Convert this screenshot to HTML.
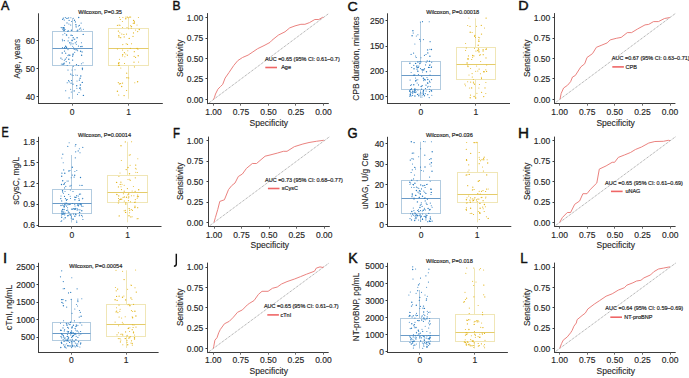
<!DOCTYPE html><html><head><meta charset="utf-8"><style>html,body{margin:0;padding:0;background:#fff;width:689px;height:378px;overflow:hidden}svg{display:block}</style></head><body><svg width="689" height="378" viewBox="0 0 689 378" font-family="'Liberation Sans', sans-serif">
<rect width="689" height="378" fill="#fff"/>
<text transform="translate(0.98,10.20) scale(1.013,1)" font-size="12.35" fill="#111" stroke="#111" stroke-width="0.45">A</text>
<text transform="translate(172.61,10.40) scale(0.951,1)" font-size="12.65" fill="#111" stroke="#111" stroke-width="0.45">B</text>
<text transform="translate(347.58,10.70) scale(1.063,1)" font-size="13.37" fill="#111" stroke="#111" stroke-width="0.45">C</text>
<text transform="translate(518.22,10.40) scale(1.105,1)" font-size="12.99" fill="#111" stroke="#111" stroke-width="0.45">D</text>
<text transform="translate(1.61,137.40) scale(0.756,1)" font-size="14.39" fill="#111" stroke="#111" stroke-width="0.45">E</text>
<text transform="translate(173.06,137.60) scale(0.780,1)" font-size="14.68" fill="#111" stroke="#111" stroke-width="0.45">F</text>
<text transform="translate(347.45,137.60) scale(0.887,1)" font-size="14.68" fill="#111" stroke="#111" stroke-width="0.45">G</text>
<text transform="translate(517.95,137.60) scale(1.037,1)" font-size="14.68" fill="#111" stroke="#111" stroke-width="0.45">H</text>
<text transform="translate(3.02,263.20) scale(1.064,1)" font-size="14.10" fill="#111" stroke="#111" stroke-width="0.45">I</text>
<text transform="translate(348.24,263.20) scale(1.001,1)" font-size="14.10" fill="#111" stroke="#111" stroke-width="0.45">K</text>
<text transform="translate(520.30,263.20) scale(0.949,1)" font-size="14.10" fill="#111" stroke="#111" stroke-width="0.45">L</text>
<path d="M176.3,253.7 V264.0 Q176.3,266.2 173.9,266.2" fill="none" stroke="#111" stroke-width="1.45"/>
<line x1="38.50" y1="13.30" x2="38.50" y2="104.00" stroke="#3d3d3d" stroke-width="1" />
<line x1="38.00" y1="103.50" x2="162.80" y2="103.50" stroke="#3d3d3d" stroke-width="1" />
<line x1="36.50" y1="96.50" x2="38.50" y2="96.50" stroke="#3d3d3d" stroke-width="1" />
<text x="35.10" y="99.50" font-size="8.5" text-anchor="end" fill="#262626" stroke="#262626" stroke-width="0.15" >40</text>
<line x1="36.50" y1="68.50" x2="38.50" y2="68.50" stroke="#3d3d3d" stroke-width="1" />
<text x="35.10" y="71.50" font-size="8.5" text-anchor="end" fill="#262626" stroke="#262626" stroke-width="0.15" >50</text>
<line x1="36.50" y1="40.50" x2="38.50" y2="40.50" stroke="#3d3d3d" stroke-width="1" />
<text x="35.10" y="43.50" font-size="8.5" text-anchor="end" fill="#262626" stroke="#262626" stroke-width="0.15" >60</text>
<line x1="72.50" y1="103.50" x2="72.50" y2="105.70" stroke="#6a6a6a" stroke-width="1" />
<text x="72.20" y="114.80" font-size="8.5" text-anchor="middle" fill="#262626" stroke="#262626" stroke-width="0.15" >0</text>
<line x1="128.50" y1="103.50" x2="128.50" y2="105.70" stroke="#6a6a6a" stroke-width="1" />
<text x="128.60" y="114.80" font-size="8.5" text-anchor="middle" fill="#262626" stroke="#262626" stroke-width="0.15" >1</text>
<text x="20.20" y="58.70" font-size="8.3" text-anchor="middle" fill="#262626" stroke="#262626" stroke-width="0.1" transform="rotate(-90 20.20 58.70)">Age, years</text>
<text x="78.30" y="14.30" font-size="5.6" text-anchor="start" fill="#262626" stroke="#262626" stroke-width="0.18" >Wilcoxon, P=0.35</text>
<line x1="72.50" y1="18.30" x2="72.50" y2="31.50" stroke="#b3cce0" stroke-width="1" />
<line x1="72.50" y1="65.50" x2="72.50" y2="99.00" stroke="#b3cce0" stroke-width="1" />
<rect x="52.50" y="31.50" width="40.00" height="34.00" fill="none" stroke="#b3cce0" stroke-width="1"/>
<line x1="52.50" y1="48.50" x2="92.50" y2="48.50" stroke="#6a9bc8" stroke-width="1" />
<circle cx="64.3" cy="60.3" r="0.5" fill="#2a7bbf"/>
<circle cx="73.0" cy="84.2" r="0.6" fill="#2a7bbf"/>
<circle cx="81.4" cy="42.7" r="0.55" fill="#2a7bbf"/>
<circle cx="70.7" cy="89.3" r="0.5" fill="#2a7bbf"/>
<circle cx="73.4" cy="66.2" r="0.5" fill="#2a7bbf"/>
<circle cx="63.7" cy="28.1" r="0.55" fill="#2a7bbf"/>
<circle cx="74.1" cy="39.5" r="0.5" fill="#2a7bbf"/>
<circle cx="69.9" cy="43.1" r="0.55" fill="#2a7bbf"/>
<circle cx="80.3" cy="87.8" r="0.6" fill="#2a7bbf"/>
<circle cx="73.1" cy="53.8" r="0.6" fill="#2a7bbf"/>
<circle cx="76.3" cy="44.3" r="0.5" fill="#2a7bbf"/>
<circle cx="75.3" cy="42.8" r="0.6" fill="#2a7bbf"/>
<circle cx="77.0" cy="81.1" r="0.5" fill="#2a7bbf"/>
<circle cx="72.1" cy="40.3" r="0.7" fill="#2a7bbf"/>
<circle cx="71.4" cy="30.3" r="0.7" fill="#2a7bbf"/>
<circle cx="66.5" cy="57.7" r="0.55" fill="#2a7bbf"/>
<circle cx="66.4" cy="34.9" r="0.6" fill="#2a7bbf"/>
<circle cx="80.7" cy="46.6" r="0.7" fill="#2a7bbf"/>
<circle cx="83.0" cy="62.7" r="0.5" fill="#2a7bbf"/>
<circle cx="64.6" cy="47.5" r="0.6" fill="#2a7bbf"/>
<circle cx="72.0" cy="75.0" r="0.5" fill="#2a7bbf"/>
<circle cx="62.7" cy="19.4" r="0.6" fill="#2a7bbf"/>
<circle cx="68.8" cy="59.2" r="0.7" fill="#2a7bbf"/>
<circle cx="71.2" cy="42.9" r="0.5" fill="#2a7bbf"/>
<circle cx="71.6" cy="21.6" r="0.5" fill="#2a7bbf"/>
<circle cx="76.7" cy="85.8" r="0.7" fill="#2a7bbf"/>
<circle cx="69.6" cy="62.9" r="0.6" fill="#2a7bbf"/>
<circle cx="71.3" cy="92.0" r="0.55" fill="#2a7bbf"/>
<circle cx="72.1" cy="40.8" r="0.55" fill="#2a7bbf"/>
<circle cx="63.8" cy="30.7" r="0.55" fill="#2a7bbf"/>
<circle cx="81.6" cy="55.2" r="0.7" fill="#2a7bbf"/>
<circle cx="71.1" cy="83.2" r="0.6" fill="#2a7bbf"/>
<circle cx="79.4" cy="25.3" r="0.6" fill="#2a7bbf"/>
<circle cx="83.2" cy="34.4" r="0.7" fill="#2a7bbf"/>
<circle cx="64.3" cy="20.0" r="0.55" fill="#2a7bbf"/>
<circle cx="75.8" cy="75.1" r="0.5" fill="#2a7bbf"/>
<circle cx="74.2" cy="49.3" r="0.6" fill="#2a7bbf"/>
<circle cx="64.2" cy="63.1" r="0.6" fill="#2a7bbf"/>
<circle cx="68.1" cy="40.9" r="0.55" fill="#2a7bbf"/>
<circle cx="72.5" cy="35.5" r="0.5" fill="#2a7bbf"/>
<circle cx="80.6" cy="51.2" r="0.7" fill="#2a7bbf"/>
<circle cx="69.8" cy="55.2" r="0.7" fill="#2a7bbf"/>
<circle cx="62.3" cy="39.3" r="0.5" fill="#2a7bbf"/>
<circle cx="70.9" cy="17.7" r="0.5" fill="#2a7bbf"/>
<circle cx="62.1" cy="59.2" r="0.5" fill="#2a7bbf"/>
<circle cx="73.0" cy="43.8" r="0.6" fill="#2a7bbf"/>
<circle cx="62.5" cy="40.7" r="0.55" fill="#2a7bbf"/>
<circle cx="64.3" cy="40.6" r="0.6" fill="#2a7bbf"/>
<circle cx="74.5" cy="20.3" r="0.7" fill="#2a7bbf"/>
<circle cx="80.1" cy="78.2" r="0.7" fill="#2a7bbf"/>
<circle cx="68.0" cy="49.6" r="0.55" fill="#2a7bbf"/>
<circle cx="68.6" cy="80.6" r="0.6" fill="#2a7bbf"/>
<circle cx="76.5" cy="49.8" r="0.5" fill="#2a7bbf"/>
<circle cx="82.4" cy="69.6" r="0.6" fill="#2a7bbf"/>
<circle cx="73.2" cy="75.6" r="0.5" fill="#2a7bbf"/>
<circle cx="67.6" cy="31.2" r="0.5" fill="#2a7bbf"/>
<circle cx="66.8" cy="35.1" r="0.6" fill="#2a7bbf"/>
<circle cx="68.9" cy="24.0" r="0.55" fill="#2a7bbf"/>
<circle cx="78.5" cy="46.1" r="0.6" fill="#2a7bbf"/>
<circle cx="74.8" cy="39.1" r="0.55" fill="#2a7bbf"/>
<circle cx="79.4" cy="29.1" r="0.55" fill="#2a7bbf"/>
<circle cx="72.0" cy="70.1" r="0.5" fill="#2a7bbf"/>
<circle cx="78.7" cy="17.5" r="0.7" fill="#2a7bbf"/>
<circle cx="76.5" cy="64.7" r="0.6" fill="#2a7bbf"/>
<circle cx="82.1" cy="51.9" r="0.6" fill="#2a7bbf"/>
<circle cx="69.1" cy="20.4" r="0.55" fill="#2a7bbf"/>
<circle cx="71.5" cy="80.6" r="0.6" fill="#2a7bbf"/>
<circle cx="75.0" cy="69.7" r="0.5" fill="#2a7bbf"/>
<circle cx="75.7" cy="49.7" r="0.5" fill="#2a7bbf"/>
<circle cx="63.6" cy="27.8" r="0.7" fill="#2a7bbf"/>
<circle cx="77.8" cy="30.1" r="0.7" fill="#2a7bbf"/>
<circle cx="70.7" cy="25.0" r="0.6" fill="#2a7bbf"/>
<circle cx="82.3" cy="82.4" r="0.7" fill="#2a7bbf"/>
<circle cx="77.7" cy="50.8" r="0.5" fill="#2a7bbf"/>
<circle cx="64.8" cy="33.2" r="0.55" fill="#2a7bbf"/>
<circle cx="74.2" cy="90.9" r="0.7" fill="#2a7bbf"/>
<circle cx="64.2" cy="29.0" r="0.7" fill="#2a7bbf"/>
<circle cx="68.8" cy="37.7" r="0.55" fill="#2a7bbf"/>
<circle cx="79.0" cy="92.4" r="0.5" fill="#2a7bbf"/>
<circle cx="82.0" cy="46.5" r="0.7" fill="#2a7bbf"/>
<circle cx="65.3" cy="17.6" r="0.55" fill="#2a7bbf"/>
<circle cx="65.7" cy="90.8" r="0.55" fill="#2a7bbf"/>
<circle cx="68.3" cy="30.9" r="0.7" fill="#2a7bbf"/>
<circle cx="62.3" cy="27.8" r="0.6" fill="#2a7bbf"/>
<circle cx="75.9" cy="24.6" r="0.7" fill="#2a7bbf"/>
<circle cx="80.7" cy="28.1" r="0.55" fill="#2a7bbf"/>
<circle cx="72.7" cy="46.2" r="0.5" fill="#2a7bbf"/>
<circle cx="78.4" cy="25.9" r="0.5" fill="#2a7bbf"/>
<circle cx="64.3" cy="30.4" r="0.55" fill="#2a7bbf"/>
<circle cx="77.3" cy="50.1" r="0.5" fill="#2a7bbf"/>
<circle cx="72.6" cy="60.1" r="0.7" fill="#2a7bbf"/>
<circle cx="63.3" cy="30.0" r="0.5" fill="#2a7bbf"/>
<circle cx="67.2" cy="65.4" r="0.5" fill="#2a7bbf"/>
<circle cx="73.6" cy="47.8" r="0.5" fill="#2a7bbf"/>
<circle cx="74.7" cy="52.2" r="0.55" fill="#2a7bbf"/>
<circle cx="71.1" cy="35.3" r="0.7" fill="#2a7bbf"/>
<circle cx="66.5" cy="47.8" r="0.6" fill="#2a7bbf"/>
<circle cx="81.1" cy="23.1" r="0.55" fill="#2a7bbf"/>
<circle cx="64.0" cy="27.5" r="0.5" fill="#2a7bbf"/>
<circle cx="68.0" cy="55.6" r="0.55" fill="#2a7bbf"/>
<circle cx="65.7" cy="53.2" r="0.6" fill="#2a7bbf"/>
<circle cx="81.2" cy="30.0" r="0.55" fill="#2a7bbf"/>
<circle cx="75.4" cy="21.9" r="0.6" fill="#2a7bbf"/>
<circle cx="80.8" cy="76.0" r="0.7" fill="#2a7bbf"/>
<circle cx="82.4" cy="68.2" r="0.7" fill="#2a7bbf"/>
<circle cx="64.6" cy="25.3" r="0.55" fill="#2a7bbf"/>
<circle cx="70.7" cy="74.1" r="0.7" fill="#2a7bbf"/>
<circle cx="65.3" cy="59.2" r="0.6" fill="#2a7bbf"/>
<circle cx="69.2" cy="81.8" r="0.6" fill="#2a7bbf"/>
<circle cx="70.9" cy="44.7" r="0.5" fill="#2a7bbf"/>
<circle cx="72.6" cy="56.2" r="0.6" fill="#2a7bbf"/>
<circle cx="62.4" cy="47.5" r="0.55" fill="#2a7bbf"/>
<circle cx="63.3" cy="18.2" r="0.6" fill="#2a7bbf"/>
<circle cx="81.4" cy="63.8" r="0.55" fill="#2a7bbf"/>
<circle cx="63.8" cy="63.9" r="0.7" fill="#2a7bbf"/>
<circle cx="76.2" cy="27.0" r="0.6" fill="#2a7bbf"/>
<circle cx="73.0" cy="54.7" r="0.7" fill="#2a7bbf"/>
<circle cx="62.9" cy="34.8" r="0.5" fill="#2a7bbf"/>
<circle cx="65.1" cy="29.4" r="0.5" fill="#2a7bbf"/>
<circle cx="61.3" cy="64.0" r="0.5" fill="#2a7bbf"/>
<circle cx="62.8" cy="29.3" r="0.55" fill="#2a7bbf"/>
<circle cx="80.4" cy="85.0" r="0.7" fill="#2a7bbf"/>
<circle cx="83.4" cy="95.4" r="0.7" fill="#2a7bbf"/>
<circle cx="67.0" cy="22.9" r="0.55" fill="#2a7bbf"/>
<circle cx="76.9" cy="88.3" r="0.5" fill="#2a7bbf"/>
<circle cx="66.8" cy="18.4" r="0.55" fill="#2a7bbf"/>
<circle cx="68.0" cy="70.0" r="0.6" fill="#2a7bbf"/>
<circle cx="65.6" cy="46.2" r="0.7" fill="#2a7bbf"/>
<circle cx="64.9" cy="48.3" r="0.6" fill="#2a7bbf"/>
<circle cx="83.4" cy="29.2" r="0.5" fill="#2a7bbf"/>
<circle cx="77.5" cy="94.2" r="0.55" fill="#2a7bbf"/>
<circle cx="66.5" cy="47.3" r="0.7" fill="#2a7bbf"/>
<circle cx="79.4" cy="80.1" r="0.7" fill="#2a7bbf"/>
<circle cx="73.2" cy="37.8" r="0.7" fill="#2a7bbf"/>
<circle cx="67.9" cy="18.3" r="0.55" fill="#2a7bbf"/>
<circle cx="68.7" cy="17.8" r="0.55" fill="#2a7bbf"/>
<circle cx="68.8" cy="54.8" r="0.5" fill="#2a7bbf"/>
<circle cx="61.2" cy="27.6" r="0.6" fill="#2a7bbf"/>
<circle cx="62.2" cy="53.0" r="0.7" fill="#2a7bbf"/>
<circle cx="76.0" cy="26.0" r="0.6" fill="#2a7bbf"/>
<circle cx="76.5" cy="41.7" r="0.5" fill="#2a7bbf"/>
<circle cx="64.5" cy="51.1" r="0.7" fill="#2a7bbf"/>
<circle cx="69.1" cy="97.9" r="0.6" fill="#2a7bbf"/>
<circle cx="73.3" cy="18.2" r="0.55" fill="#2a7bbf"/>
<circle cx="80.8" cy="89.7" r="0.55" fill="#2a7bbf"/>
<circle cx="60.9" cy="58.1" r="0.7" fill="#2a7bbf"/>
<circle cx="67.2" cy="82.8" r="0.55" fill="#2a7bbf"/>
<circle cx="78.4" cy="65.5" r="0.5" fill="#2a7bbf"/>
<circle cx="62.9" cy="64.3" r="0.7" fill="#2a7bbf"/>
<circle cx="69.8" cy="42.5" r="0.6" fill="#2a7bbf"/>
<circle cx="66.2" cy="61.6" r="0.55" fill="#2a7bbf"/>
<circle cx="77.1" cy="37.7" r="0.7" fill="#2a7bbf"/>
<circle cx="77.2" cy="30.9" r="0.7" fill="#2a7bbf"/>
<circle cx="77.3" cy="75.3" r="0.55" fill="#2a7bbf"/>
<circle cx="79.8" cy="88.3" r="0.7" fill="#2a7bbf"/>
<line x1="128.50" y1="17.50" x2="128.50" y2="28.50" stroke="#f0e6b6" stroke-width="1" />
<line x1="128.50" y1="65.50" x2="128.50" y2="98.80" stroke="#f0e6b6" stroke-width="1" />
<rect x="108.50" y="28.50" width="40.00" height="37.00" fill="none" stroke="#f0e6b6" stroke-width="1"/>
<line x1="108.50" y1="48.50" x2="148.50" y2="48.50" stroke="#e5cc6a" stroke-width="1" />
<circle cx="135.6" cy="30.0" r="0.55" fill="#e3b51c"/>
<circle cx="134.3" cy="22.2" r="0.5" fill="#e3b51c"/>
<circle cx="130.5" cy="25.8" r="0.55" fill="#e3b51c"/>
<circle cx="118.3" cy="82.6" r="0.6" fill="#e3b51c"/>
<circle cx="125.8" cy="18.7" r="0.7" fill="#e3b51c"/>
<circle cx="131.5" cy="43.7" r="0.55" fill="#e3b51c"/>
<circle cx="117.4" cy="49.0" r="0.5" fill="#e3b51c"/>
<circle cx="128.7" cy="28.8" r="0.5" fill="#e3b51c"/>
<circle cx="118.8" cy="35.8" r="0.7" fill="#e3b51c"/>
<circle cx="119.0" cy="65.3" r="0.6" fill="#e3b51c"/>
<circle cx="134.4" cy="66.9" r="0.55" fill="#e3b51c"/>
<circle cx="139.3" cy="29.5" r="0.7" fill="#e3b51c"/>
<circle cx="119.1" cy="25.1" r="0.6" fill="#e3b51c"/>
<circle cx="131.2" cy="28.1" r="0.55" fill="#e3b51c"/>
<circle cx="120.6" cy="83.6" r="0.6" fill="#e3b51c"/>
<circle cx="133.0" cy="36.4" r="0.55" fill="#e3b51c"/>
<circle cx="118.7" cy="95.0" r="0.6" fill="#e3b51c"/>
<circle cx="119.6" cy="17.5" r="0.55" fill="#e3b51c"/>
<circle cx="123.9" cy="34.5" r="0.6" fill="#e3b51c"/>
<circle cx="127.8" cy="50.7" r="0.5" fill="#e3b51c"/>
<circle cx="129.7" cy="17.1" r="0.6" fill="#e3b51c"/>
<circle cx="138.4" cy="17.4" r="0.5" fill="#e3b51c"/>
<circle cx="119.0" cy="62.8" r="0.7" fill="#e3b51c"/>
<circle cx="126.0" cy="17.1" r="0.55" fill="#e3b51c"/>
<circle cx="119.4" cy="83.9" r="0.6" fill="#e3b51c"/>
<circle cx="120.3" cy="19.5" r="0.6" fill="#e3b51c"/>
<circle cx="133.2" cy="23.3" r="0.55" fill="#e3b51c"/>
<circle cx="137.1" cy="48.4" r="0.7" fill="#e3b51c"/>
<circle cx="117.4" cy="91.2" r="0.7" fill="#e3b51c"/>
<circle cx="126.5" cy="34.1" r="0.55" fill="#e3b51c"/>
<circle cx="125.8" cy="54.1" r="0.5" fill="#e3b51c"/>
<circle cx="117.4" cy="25.3" r="0.6" fill="#e3b51c"/>
<circle cx="120.0" cy="25.3" r="0.55" fill="#e3b51c"/>
<circle cx="137.7" cy="31.6" r="0.6" fill="#e3b51c"/>
<circle cx="118.8" cy="65.3" r="0.7" fill="#e3b51c"/>
<circle cx="130.6" cy="17.0" r="0.6" fill="#e3b51c"/>
<circle cx="134.4" cy="21.4" r="0.5" fill="#e3b51c"/>
<circle cx="118.5" cy="63.4" r="0.6" fill="#e3b51c"/>
<circle cx="120.7" cy="37.7" r="0.6" fill="#e3b51c"/>
<circle cx="124.4" cy="52.7" r="0.6" fill="#e3b51c"/>
<circle cx="127.0" cy="27.4" r="0.5" fill="#e3b51c"/>
<circle cx="131.6" cy="26.4" r="0.55" fill="#e3b51c"/>
<circle cx="118.4" cy="31.1" r="0.7" fill="#e3b51c"/>
<circle cx="134.3" cy="51.7" r="0.6" fill="#e3b51c"/>
<circle cx="137.9" cy="49.3" r="0.55" fill="#e3b51c"/>
<circle cx="126.7" cy="73.2" r="0.6" fill="#e3b51c"/>
<circle cx="134.0" cy="62.2" r="0.6" fill="#e3b51c"/>
<circle cx="122.7" cy="54.8" r="0.7" fill="#e3b51c"/>
<circle cx="126.2" cy="43.8" r="0.55" fill="#e3b51c"/>
<circle cx="119.0" cy="37.1" r="0.7" fill="#e3b51c"/>
<circle cx="127.5" cy="44.3" r="0.6" fill="#e3b51c"/>
<circle cx="127.5" cy="17.1" r="0.55" fill="#e3b51c"/>
<circle cx="122.8" cy="44.6" r="0.55" fill="#e3b51c"/>
<circle cx="119.4" cy="59.2" r="0.55" fill="#e3b51c"/>
<circle cx="135.6" cy="57.4" r="0.55" fill="#e3b51c"/>
<circle cx="134.2" cy="23.3" r="0.7" fill="#e3b51c"/>
<circle cx="134.1" cy="56.4" r="0.55" fill="#e3b51c"/>
<circle cx="124.9" cy="56.8" r="0.5" fill="#e3b51c"/>
<circle cx="130.3" cy="48.4" r="0.6" fill="#e3b51c"/>
<circle cx="128.7" cy="77.9" r="0.55" fill="#e3b51c"/>
<circle cx="137.6" cy="81.7" r="0.7" fill="#e3b51c"/>
<circle cx="127.4" cy="55.2" r="0.6" fill="#e3b51c"/>
<circle cx="137.0" cy="25.0" r="0.5" fill="#e3b51c"/>
<circle cx="126.9" cy="77.8" r="0.7" fill="#e3b51c"/>
<circle cx="128.4" cy="17.7" r="0.5" fill="#e3b51c"/>
<circle cx="138.2" cy="55.8" r="0.7" fill="#e3b51c"/>
<circle cx="122.9" cy="17.5" r="0.5" fill="#e3b51c"/>
<circle cx="120.8" cy="68.0" r="0.5" fill="#e3b51c"/>
<circle cx="133.6" cy="20.5" r="0.7" fill="#e3b51c"/>
<circle cx="134.8" cy="82.7" r="0.5" fill="#e3b51c"/>
<circle cx="122.6" cy="27.5" r="0.5" fill="#e3b51c"/>
<circle cx="124.2" cy="36.9" r="0.55" fill="#e3b51c"/>
<circle cx="129.2" cy="38.4" r="0.7" fill="#e3b51c"/>
<circle cx="119.8" cy="32.7" r="0.5" fill="#e3b51c"/>
<circle cx="138.6" cy="62.0" r="0.55" fill="#e3b51c"/>
<circle cx="122.4" cy="56.0" r="0.5" fill="#e3b51c"/>
<circle cx="124.1" cy="95.6" r="0.7" fill="#e3b51c"/>
<circle cx="124.5" cy="63.5" r="0.55" fill="#e3b51c"/>
<circle cx="122.6" cy="50.0" r="0.55" fill="#e3b51c"/>
<circle cx="126.6" cy="90.5" r="0.6" fill="#e3b51c"/>
<circle cx="121.7" cy="86.5" r="0.7" fill="#e3b51c"/>
<circle cx="122.5" cy="83.1" r="0.7" fill="#e3b51c"/>
<circle cx="122.4" cy="21.4" r="0.5" fill="#e3b51c"/>
<circle cx="133.5" cy="32.9" r="0.6" fill="#e3b51c"/>
<circle cx="121.8" cy="34.0" r="0.6" fill="#e3b51c"/>
<line x1="387.50" y1="13.30" x2="387.50" y2="104.00" stroke="#3d3d3d" stroke-width="1" />
<line x1="387.00" y1="103.50" x2="510.00" y2="103.50" stroke="#3d3d3d" stroke-width="1" />
<line x1="385.50" y1="20.50" x2="387.50" y2="20.50" stroke="#3d3d3d" stroke-width="1" />
<text x="384.10" y="24.20" font-size="8.5" text-anchor="end" fill="#262626" stroke="#262626" stroke-width="0.15" >250</text>
<line x1="385.50" y1="46.50" x2="387.50" y2="46.50" stroke="#3d3d3d" stroke-width="1" />
<text x="384.10" y="49.20" font-size="8.5" text-anchor="end" fill="#262626" stroke="#262626" stroke-width="0.15" >150</text>
<line x1="385.50" y1="71.50" x2="387.50" y2="71.50" stroke="#3d3d3d" stroke-width="1" />
<text x="384.10" y="74.30" font-size="8.5" text-anchor="end" fill="#262626" stroke="#262626" stroke-width="0.15" >200</text>
<line x1="385.50" y1="96.50" x2="387.50" y2="96.50" stroke="#3d3d3d" stroke-width="1" />
<text x="384.10" y="99.50" font-size="8.5" text-anchor="end" fill="#262626" stroke="#262626" stroke-width="0.15" >100</text>
<line x1="420.50" y1="103.50" x2="420.50" y2="105.70" stroke="#6a6a6a" stroke-width="1" />
<text x="420.75" y="114.80" font-size="8.5" text-anchor="middle" fill="#262626" stroke="#262626" stroke-width="0.15" >0</text>
<line x1="475.50" y1="103.50" x2="475.50" y2="105.70" stroke="#6a6a6a" stroke-width="1" />
<text x="475.90" y="114.80" font-size="8.5" text-anchor="middle" fill="#262626" stroke="#262626" stroke-width="0.15" >1</text>
<text x="359.40" y="58.60" font-size="8.43" text-anchor="middle" fill="#262626" stroke="#262626" stroke-width="0.1" transform="rotate(-90 359.40 58.60)">CPB duration, minutes</text>
<text x="426.20" y="14.20" font-size="5.6" text-anchor="start" fill="#262626" stroke="#262626" stroke-width="0.18" >Wilcoxon, P=0.00018</text>
<line x1="420.50" y1="22.00" x2="420.50" y2="61.50" stroke="#b3cce0" stroke-width="1" />
<line x1="420.50" y1="89.50" x2="420.50" y2="98.00" stroke="#b3cce0" stroke-width="1" />
<rect x="401.50" y="61.50" width="39.00" height="28.00" fill="none" stroke="#b3cce0" stroke-width="1"/>
<line x1="401.50" y1="75.50" x2="440.50" y2="75.50" stroke="#6a9bc8" stroke-width="1" />
<circle cx="420.9" cy="61.9" r="0.55" fill="#2a7bbf"/>
<circle cx="414.1" cy="75.4" r="0.55" fill="#2a7bbf"/>
<circle cx="414.6" cy="89.7" r="0.6" fill="#2a7bbf"/>
<circle cx="423.5" cy="93.0" r="0.55" fill="#2a7bbf"/>
<circle cx="420.4" cy="40.9" r="0.5" fill="#2a7bbf"/>
<circle cx="412.9" cy="30.7" r="0.7" fill="#2a7bbf"/>
<circle cx="410.2" cy="94.8" r="0.55" fill="#2a7bbf"/>
<circle cx="425.4" cy="79.9" r="0.55" fill="#2a7bbf"/>
<circle cx="429.5" cy="81.2" r="0.6" fill="#2a7bbf"/>
<circle cx="431.7" cy="62.3" r="0.55" fill="#2a7bbf"/>
<circle cx="413.8" cy="84.8" r="0.7" fill="#2a7bbf"/>
<circle cx="424.4" cy="95.7" r="0.7" fill="#2a7bbf"/>
<circle cx="431.4" cy="49.5" r="0.7" fill="#2a7bbf"/>
<circle cx="409.8" cy="91.3" r="0.6" fill="#2a7bbf"/>
<circle cx="419.0" cy="93.9" r="0.5" fill="#2a7bbf"/>
<circle cx="426.5" cy="71.8" r="0.7" fill="#2a7bbf"/>
<circle cx="427.8" cy="83.2" r="0.7" fill="#2a7bbf"/>
<circle cx="425.3" cy="93.6" r="0.55" fill="#2a7bbf"/>
<circle cx="430.0" cy="82.3" r="0.55" fill="#2a7bbf"/>
<circle cx="426.0" cy="85.1" r="0.7" fill="#2a7bbf"/>
<circle cx="418.8" cy="95.8" r="0.7" fill="#2a7bbf"/>
<circle cx="410.5" cy="95.3" r="0.5" fill="#2a7bbf"/>
<circle cx="411.1" cy="54.4" r="0.55" fill="#2a7bbf"/>
<circle cx="429.5" cy="61.5" r="0.6" fill="#2a7bbf"/>
<circle cx="417.1" cy="82.9" r="0.5" fill="#2a7bbf"/>
<circle cx="425.5" cy="88.5" r="0.6" fill="#2a7bbf"/>
<circle cx="416.3" cy="36.0" r="0.5" fill="#2a7bbf"/>
<circle cx="414.9" cy="96.0" r="0.7" fill="#2a7bbf"/>
<circle cx="420.0" cy="63.2" r="0.7" fill="#2a7bbf"/>
<circle cx="429.9" cy="56.2" r="0.7" fill="#2a7bbf"/>
<circle cx="420.7" cy="92.3" r="0.5" fill="#2a7bbf"/>
<circle cx="426.0" cy="54.5" r="0.55" fill="#2a7bbf"/>
<circle cx="417.0" cy="69.2" r="0.6" fill="#2a7bbf"/>
<circle cx="427.0" cy="77.4" r="0.5" fill="#2a7bbf"/>
<circle cx="418.4" cy="74.5" r="0.55" fill="#2a7bbf"/>
<circle cx="411.1" cy="89.3" r="0.5" fill="#2a7bbf"/>
<circle cx="421.7" cy="76.2" r="0.55" fill="#2a7bbf"/>
<circle cx="429.2" cy="21.8" r="0.5" fill="#2a7bbf"/>
<circle cx="411.6" cy="88.4" r="0.5" fill="#2a7bbf"/>
<circle cx="431.5" cy="79.6" r="0.7" fill="#2a7bbf"/>
<circle cx="412.7" cy="91.2" r="0.7" fill="#2a7bbf"/>
<circle cx="424.6" cy="68.5" r="0.5" fill="#2a7bbf"/>
<circle cx="416.2" cy="57.5" r="0.6" fill="#2a7bbf"/>
<circle cx="417.9" cy="71.5" r="0.6" fill="#2a7bbf"/>
<circle cx="415.2" cy="90.5" r="0.55" fill="#2a7bbf"/>
<circle cx="415.9" cy="89.6" r="0.55" fill="#2a7bbf"/>
<circle cx="418.5" cy="84.9" r="0.55" fill="#2a7bbf"/>
<circle cx="414.8" cy="74.8" r="0.5" fill="#2a7bbf"/>
<circle cx="431.6" cy="66.7" r="0.5" fill="#2a7bbf"/>
<circle cx="429.2" cy="97.6" r="0.55" fill="#2a7bbf"/>
<circle cx="429.9" cy="49.3" r="0.5" fill="#2a7bbf"/>
<circle cx="414.9" cy="44.0" r="0.5" fill="#2a7bbf"/>
<circle cx="431.2" cy="90.7" r="0.55" fill="#2a7bbf"/>
<circle cx="417.9" cy="34.8" r="0.55" fill="#2a7bbf"/>
<circle cx="415.5" cy="78.0" r="0.5" fill="#2a7bbf"/>
<circle cx="422.9" cy="93.1" r="0.6" fill="#2a7bbf"/>
<circle cx="417.9" cy="90.0" r="0.55" fill="#2a7bbf"/>
<circle cx="431.8" cy="95.2" r="0.5" fill="#2a7bbf"/>
<circle cx="424.1" cy="69.7" r="0.55" fill="#2a7bbf"/>
<circle cx="427.8" cy="52.9" r="0.7" fill="#2a7bbf"/>
<circle cx="413.8" cy="65.3" r="0.6" fill="#2a7bbf"/>
<circle cx="410.4" cy="94.0" r="0.7" fill="#2a7bbf"/>
<circle cx="411.1" cy="72.5" r="0.5" fill="#2a7bbf"/>
<circle cx="424.4" cy="55.4" r="0.55" fill="#2a7bbf"/>
<circle cx="411.7" cy="67.5" r="0.55" fill="#2a7bbf"/>
<circle cx="415.7" cy="80.9" r="0.6" fill="#2a7bbf"/>
<circle cx="418.9" cy="65.9" r="0.5" fill="#2a7bbf"/>
<circle cx="422.2" cy="85.7" r="0.6" fill="#2a7bbf"/>
<circle cx="410.1" cy="80.0" r="0.6" fill="#2a7bbf"/>
<circle cx="418.3" cy="67.2" r="0.7" fill="#2a7bbf"/>
<circle cx="409.8" cy="90.4" r="0.55" fill="#2a7bbf"/>
<circle cx="427.8" cy="79.5" r="0.7" fill="#2a7bbf"/>
<circle cx="417.8" cy="70.9" r="0.55" fill="#2a7bbf"/>
<circle cx="410.9" cy="92.4" r="0.55" fill="#2a7bbf"/>
<circle cx="429.8" cy="67.4" r="0.5" fill="#2a7bbf"/>
<circle cx="430.2" cy="71.1" r="0.55" fill="#2a7bbf"/>
<circle cx="416.0" cy="91.9" r="0.55" fill="#2a7bbf"/>
<circle cx="412.1" cy="35.8" r="0.7" fill="#2a7bbf"/>
<circle cx="427.2" cy="60.9" r="0.55" fill="#2a7bbf"/>
<circle cx="428.2" cy="86.3" r="0.5" fill="#2a7bbf"/>
<circle cx="420.4" cy="21.9" r="0.5" fill="#2a7bbf"/>
<circle cx="423.8" cy="69.2" r="0.5" fill="#2a7bbf"/>
<circle cx="423.4" cy="39.6" r="0.55" fill="#2a7bbf"/>
<circle cx="428.6" cy="67.4" r="0.7" fill="#2a7bbf"/>
<circle cx="414.0" cy="68.8" r="0.7" fill="#2a7bbf"/>
<circle cx="414.5" cy="90.9" r="0.7" fill="#2a7bbf"/>
<circle cx="413.2" cy="33.0" r="0.6" fill="#2a7bbf"/>
<circle cx="415.2" cy="92.6" r="0.55" fill="#2a7bbf"/>
<circle cx="422.1" cy="95.3" r="0.5" fill="#2a7bbf"/>
<circle cx="416.9" cy="65.9" r="0.7" fill="#2a7bbf"/>
<circle cx="421.9" cy="69.7" r="0.6" fill="#2a7bbf"/>
<circle cx="416.5" cy="66.9" r="0.55" fill="#2a7bbf"/>
<circle cx="424.3" cy="79.4" r="0.7" fill="#2a7bbf"/>
<circle cx="413.7" cy="75.0" r="0.5" fill="#2a7bbf"/>
<circle cx="420.5" cy="68.6" r="0.55" fill="#2a7bbf"/>
<circle cx="423.4" cy="78.2" r="0.7" fill="#2a7bbf"/>
<circle cx="427.6" cy="49.9" r="0.7" fill="#2a7bbf"/>
<circle cx="412.6" cy="93.0" r="0.7" fill="#2a7bbf"/>
<circle cx="427.4" cy="82.7" r="0.5" fill="#2a7bbf"/>
<circle cx="412.6" cy="95.3" r="0.6" fill="#2a7bbf"/>
<circle cx="421.0" cy="57.8" r="0.5" fill="#2a7bbf"/>
<circle cx="429.5" cy="61.0" r="0.55" fill="#2a7bbf"/>
<circle cx="411.2" cy="95.9" r="0.5" fill="#2a7bbf"/>
<circle cx="431.4" cy="90.6" r="0.7" fill="#2a7bbf"/>
<circle cx="427.6" cy="87.1" r="0.55" fill="#2a7bbf"/>
<circle cx="425.6" cy="64.9" r="0.55" fill="#2a7bbf"/>
<circle cx="417.5" cy="94.4" r="0.6" fill="#2a7bbf"/>
<circle cx="429.5" cy="91.6" r="0.6" fill="#2a7bbf"/>
<circle cx="419.8" cy="39.4" r="0.6" fill="#2a7bbf"/>
<circle cx="430.0" cy="75.1" r="0.55" fill="#2a7bbf"/>
<circle cx="423.3" cy="70.1" r="0.55" fill="#2a7bbf"/>
<circle cx="410.5" cy="85.3" r="0.55" fill="#2a7bbf"/>
<circle cx="423.8" cy="80.6" r="0.6" fill="#2a7bbf"/>
<circle cx="429.5" cy="65.2" r="0.55" fill="#2a7bbf"/>
<circle cx="415.6" cy="55.9" r="0.5" fill="#2a7bbf"/>
<circle cx="417.7" cy="67.6" r="0.7" fill="#2a7bbf"/>
<circle cx="422.5" cy="72.1" r="0.5" fill="#2a7bbf"/>
<circle cx="421.5" cy="89.1" r="0.7" fill="#2a7bbf"/>
<circle cx="417.9" cy="62.0" r="0.7" fill="#2a7bbf"/>
<circle cx="422.5" cy="21.7" r="0.6" fill="#2a7bbf"/>
<circle cx="411.5" cy="84.7" r="0.55" fill="#2a7bbf"/>
<circle cx="426.1" cy="91.1" r="0.5" fill="#2a7bbf"/>
<circle cx="421.1" cy="86.6" r="0.6" fill="#2a7bbf"/>
<circle cx="431.4" cy="67.5" r="0.6" fill="#2a7bbf"/>
<circle cx="426.2" cy="62.2" r="0.55" fill="#2a7bbf"/>
<circle cx="423.3" cy="91.8" r="0.7" fill="#2a7bbf"/>
<circle cx="417.8" cy="79.8" r="0.5" fill="#2a7bbf"/>
<circle cx="414.7" cy="92.3" r="0.5" fill="#2a7bbf"/>
<circle cx="409.8" cy="96.2" r="0.6" fill="#2a7bbf"/>
<circle cx="421.3" cy="86.2" r="0.55" fill="#2a7bbf"/>
<circle cx="416.4" cy="80.1" r="0.55" fill="#2a7bbf"/>
<circle cx="423.5" cy="90.4" r="0.7" fill="#2a7bbf"/>
<circle cx="410.0" cy="91.6" r="0.55" fill="#2a7bbf"/>
<circle cx="419.7" cy="63.7" r="0.5" fill="#2a7bbf"/>
<circle cx="428.9" cy="67.5" r="0.6" fill="#2a7bbf"/>
<circle cx="415.5" cy="80.7" r="0.5" fill="#2a7bbf"/>
<circle cx="427.8" cy="94.7" r="0.6" fill="#2a7bbf"/>
<circle cx="422.5" cy="69.9" r="0.7" fill="#2a7bbf"/>
<circle cx="429.7" cy="89.2" r="0.5" fill="#2a7bbf"/>
<circle cx="410.3" cy="94.5" r="0.55" fill="#2a7bbf"/>
<circle cx="411.0" cy="89.5" r="0.5" fill="#2a7bbf"/>
<circle cx="421.9" cy="97.0" r="0.55" fill="#2a7bbf"/>
<circle cx="414.1" cy="92.0" r="0.7" fill="#2a7bbf"/>
<circle cx="413.6" cy="53.1" r="0.6" fill="#2a7bbf"/>
<circle cx="423.5" cy="94.4" r="0.7" fill="#2a7bbf"/>
<circle cx="409.9" cy="63.2" r="0.7" fill="#2a7bbf"/>
<circle cx="420.0" cy="61.6" r="0.7" fill="#2a7bbf"/>
<circle cx="431.7" cy="91.1" r="0.6" fill="#2a7bbf"/>
<circle cx="410.6" cy="89.6" r="0.6" fill="#2a7bbf"/>
<circle cx="430.1" cy="41.7" r="0.6" fill="#2a7bbf"/>
<circle cx="415.6" cy="63.4" r="0.7" fill="#2a7bbf"/>
<circle cx="430.0" cy="64.9" r="0.6" fill="#2a7bbf"/>
<circle cx="430.2" cy="86.6" r="0.55" fill="#2a7bbf"/>
<circle cx="420.9" cy="93.7" r="0.55" fill="#2a7bbf"/>
<circle cx="414.9" cy="88.6" r="0.55" fill="#2a7bbf"/>
<line x1="475.50" y1="18.30" x2="475.50" y2="47.50" stroke="#f0e6b6" stroke-width="1" />
<line x1="475.50" y1="79.50" x2="475.50" y2="98.80" stroke="#f0e6b6" stroke-width="1" />
<rect x="456.50" y="47.50" width="39.00" height="32.00" fill="none" stroke="#f0e6b6" stroke-width="1"/>
<line x1="456.50" y1="64.50" x2="495.50" y2="64.50" stroke="#e5cc6a" stroke-width="1" />
<circle cx="481.3" cy="25.4" r="0.6" fill="#e3b51c"/>
<circle cx="473.4" cy="82.9" r="0.55" fill="#e3b51c"/>
<circle cx="483.7" cy="71.7" r="0.7" fill="#e3b51c"/>
<circle cx="476.6" cy="66.0" r="0.5" fill="#e3b51c"/>
<circle cx="474.5" cy="36.5" r="0.55" fill="#e3b51c"/>
<circle cx="471.7" cy="59.5" r="0.55" fill="#e3b51c"/>
<circle cx="477.8" cy="71.0" r="0.55" fill="#e3b51c"/>
<circle cx="465.5" cy="85.7" r="0.5" fill="#e3b51c"/>
<circle cx="468.4" cy="55.9" r="0.55" fill="#e3b51c"/>
<circle cx="465.6" cy="50.5" r="0.55" fill="#e3b51c"/>
<circle cx="478.9" cy="51.0" r="0.5" fill="#e3b51c"/>
<circle cx="466.3" cy="48.0" r="0.6" fill="#e3b51c"/>
<circle cx="485.9" cy="82.5" r="0.5" fill="#e3b51c"/>
<circle cx="481.5" cy="34.1" r="0.7" fill="#e3b51c"/>
<circle cx="469.4" cy="88.0" r="0.5" fill="#e3b51c"/>
<circle cx="485.8" cy="93.6" r="0.5" fill="#e3b51c"/>
<circle cx="478.8" cy="39.9" r="0.6" fill="#e3b51c"/>
<circle cx="467.8" cy="65.7" r="0.55" fill="#e3b51c"/>
<circle cx="472.3" cy="77.0" r="0.6" fill="#e3b51c"/>
<circle cx="470.5" cy="95.1" r="0.6" fill="#e3b51c"/>
<circle cx="481.6" cy="92.3" r="0.6" fill="#e3b51c"/>
<circle cx="478.2" cy="45.3" r="0.7" fill="#e3b51c"/>
<circle cx="478.5" cy="37.2" r="0.5" fill="#e3b51c"/>
<circle cx="465.6" cy="43.4" r="0.5" fill="#e3b51c"/>
<circle cx="480.4" cy="73.7" r="0.55" fill="#e3b51c"/>
<circle cx="483.1" cy="49.5" r="0.6" fill="#e3b51c"/>
<circle cx="464.9" cy="84.1" r="0.55" fill="#e3b51c"/>
<circle cx="481.4" cy="77.3" r="0.5" fill="#e3b51c"/>
<circle cx="475.7" cy="98.0" r="0.7" fill="#e3b51c"/>
<circle cx="483.1" cy="50.9" r="0.7" fill="#e3b51c"/>
<circle cx="486.0" cy="57.9" r="0.6" fill="#e3b51c"/>
<circle cx="468.4" cy="58.9" r="0.55" fill="#e3b51c"/>
<circle cx="470.0" cy="26.4" r="0.55" fill="#e3b51c"/>
<circle cx="478.9" cy="87.9" r="0.5" fill="#e3b51c"/>
<circle cx="486.7" cy="64.9" r="0.5" fill="#e3b51c"/>
<circle cx="472.7" cy="55.5" r="0.7" fill="#e3b51c"/>
<circle cx="484.5" cy="27.9" r="0.5" fill="#e3b51c"/>
<circle cx="479.1" cy="69.1" r="0.6" fill="#e3b51c"/>
<circle cx="470.7" cy="82.1" r="0.55" fill="#e3b51c"/>
<circle cx="484.4" cy="71.7" r="0.55" fill="#e3b51c"/>
<circle cx="467.7" cy="25.5" r="0.5" fill="#e3b51c"/>
<circle cx="472.1" cy="73.6" r="0.55" fill="#e3b51c"/>
<circle cx="474.8" cy="35.4" r="0.6" fill="#e3b51c"/>
<circle cx="474.5" cy="84.2" r="0.6" fill="#e3b51c"/>
<circle cx="467.7" cy="58.9" r="0.7" fill="#e3b51c"/>
<circle cx="480.2" cy="54.5" r="0.55" fill="#e3b51c"/>
<circle cx="481.5" cy="78.6" r="0.55" fill="#e3b51c"/>
<circle cx="486.4" cy="48.9" r="0.6" fill="#e3b51c"/>
<circle cx="472.6" cy="57.2" r="0.55" fill="#e3b51c"/>
<circle cx="469.0" cy="74.9" r="0.5" fill="#e3b51c"/>
<circle cx="479.4" cy="84.5" r="0.55" fill="#e3b51c"/>
<circle cx="486.6" cy="71.4" r="0.6" fill="#e3b51c"/>
<circle cx="474.5" cy="48.2" r="0.55" fill="#e3b51c"/>
<circle cx="485.0" cy="87.9" r="0.6" fill="#e3b51c"/>
<circle cx="473.4" cy="82.1" r="0.5" fill="#e3b51c"/>
<circle cx="483.7" cy="96.6" r="0.7" fill="#e3b51c"/>
<circle cx="475.9" cy="51.0" r="0.6" fill="#e3b51c"/>
<circle cx="468.0" cy="66.6" r="0.7" fill="#e3b51c"/>
<circle cx="470.2" cy="97.8" r="0.7" fill="#e3b51c"/>
<circle cx="477.8" cy="50.5" r="0.7" fill="#e3b51c"/>
<circle cx="479.6" cy="37.8" r="0.55" fill="#e3b51c"/>
<circle cx="479.0" cy="51.9" r="0.7" fill="#e3b51c"/>
<circle cx="470.6" cy="68.5" r="0.5" fill="#e3b51c"/>
<circle cx="470.2" cy="32.3" r="0.7" fill="#e3b51c"/>
<circle cx="478.8" cy="49.6" r="0.6" fill="#e3b51c"/>
<circle cx="475.5" cy="37.4" r="0.5" fill="#e3b51c"/>
<circle cx="473.9" cy="55.9" r="0.55" fill="#e3b51c"/>
<circle cx="472.1" cy="32.4" r="0.5" fill="#e3b51c"/>
<circle cx="475.7" cy="71.2" r="0.5" fill="#e3b51c"/>
<circle cx="476.9" cy="93.2" r="0.55" fill="#e3b51c"/>
<circle cx="485.9" cy="49.4" r="0.55" fill="#e3b51c"/>
<circle cx="467.1" cy="63.0" r="0.7" fill="#e3b51c"/>
<circle cx="480.7" cy="61.5" r="0.5" fill="#e3b51c"/>
<circle cx="483.2" cy="54.7" r="0.6" fill="#e3b51c"/>
<circle cx="485.8" cy="69.8" r="0.55" fill="#e3b51c"/>
<circle cx="468.9" cy="18.1" r="0.5" fill="#e3b51c"/>
<circle cx="478.4" cy="48.5" r="0.5" fill="#e3b51c"/>
<circle cx="473.3" cy="79.5" r="0.5" fill="#e3b51c"/>
<circle cx="474.1" cy="96.5" r="0.7" fill="#e3b51c"/>
<circle cx="479.8" cy="55.5" r="0.6" fill="#e3b51c"/>
<circle cx="471.6" cy="87.9" r="0.7" fill="#e3b51c"/>
<circle cx="476.5" cy="26.2" r="0.55" fill="#e3b51c"/>
<circle cx="486.1" cy="18.1" r="0.7" fill="#e3b51c"/>
<circle cx="467.7" cy="81.8" r="0.5" fill="#e3b51c"/>
<circle cx="478.9" cy="41.4" r="0.7" fill="#e3b51c"/>
<line x1="38.50" y1="136.80" x2="38.50" y2="227.00" stroke="#3d3d3d" stroke-width="1" />
<line x1="38.00" y1="226.50" x2="161.50" y2="226.50" stroke="#3d3d3d" stroke-width="1" />
<line x1="36.50" y1="225.50" x2="38.50" y2="225.50" stroke="#3d3d3d" stroke-width="1" />
<text x="35.10" y="228.40" font-size="8.5" text-anchor="end" fill="#262626" stroke="#262626" stroke-width="0.15" >0.6</text>
<line x1="36.50" y1="204.50" x2="38.50" y2="204.50" stroke="#3d3d3d" stroke-width="1" />
<text x="35.10" y="207.30" font-size="8.5" text-anchor="end" fill="#262626" stroke="#262626" stroke-width="0.15" >0.9</text>
<line x1="36.50" y1="183.50" x2="38.50" y2="183.50" stroke="#3d3d3d" stroke-width="1" />
<text x="35.10" y="186.70" font-size="8.5" text-anchor="end" fill="#262626" stroke="#262626" stroke-width="0.15" >1.2</text>
<line x1="36.50" y1="162.50" x2="38.50" y2="162.50" stroke="#3d3d3d" stroke-width="1" />
<text x="35.10" y="165.50" font-size="8.5" text-anchor="end" fill="#262626" stroke="#262626" stroke-width="0.15" >1.5</text>
<line x1="36.50" y1="141.50" x2="38.50" y2="141.50" stroke="#3d3d3d" stroke-width="1" />
<text x="35.10" y="145.00" font-size="8.5" text-anchor="end" fill="#262626" stroke="#262626" stroke-width="0.15" >1.8</text>
<line x1="71.50" y1="226.50" x2="71.50" y2="228.70" stroke="#6a6a6a" stroke-width="1" />
<text x="71.80" y="237.80" font-size="8.5" text-anchor="middle" fill="#262626" stroke="#262626" stroke-width="0.15" >0</text>
<line x1="127.50" y1="226.50" x2="127.50" y2="228.70" stroke="#6a6a6a" stroke-width="1" />
<text x="127.60" y="237.80" font-size="8.5" text-anchor="middle" fill="#262626" stroke="#262626" stroke-width="0.15" >1</text>
<text x="18.60" y="180.90" font-size="8.4" text-anchor="middle" fill="#262626" stroke="#262626" stroke-width="0.1" transform="rotate(-90 18.60 180.90)">sCysC, mg/L</text>
<text x="78.00" y="137.30" font-size="5.6" text-anchor="start" fill="#262626" stroke="#262626" stroke-width="0.18" >Wilcoxon, P=0.00014</text>
<line x1="71.50" y1="155.00" x2="71.50" y2="189.50" stroke="#b3cce0" stroke-width="1" />
<line x1="71.50" y1="213.50" x2="71.50" y2="222.50" stroke="#b3cce0" stroke-width="1" />
<rect x="52.50" y="189.50" width="39.00" height="24.00" fill="none" stroke="#b3cce0" stroke-width="1"/>
<line x1="52.50" y1="203.50" x2="91.50" y2="203.50" stroke="#6a9bc8" stroke-width="1" />
<circle cx="76.7" cy="195.5" r="0.55" fill="#2a7bbf"/>
<circle cx="74.9" cy="209.2" r="0.7" fill="#2a7bbf"/>
<circle cx="67.2" cy="204.7" r="0.55" fill="#2a7bbf"/>
<circle cx="71.1" cy="185.2" r="0.55" fill="#2a7bbf"/>
<circle cx="69.0" cy="212.6" r="0.6" fill="#2a7bbf"/>
<circle cx="75.8" cy="144.6" r="0.7" fill="#2a7bbf"/>
<circle cx="76.8" cy="222.3" r="0.6" fill="#2a7bbf"/>
<circle cx="75.2" cy="209.0" r="0.6" fill="#2a7bbf"/>
<circle cx="70.2" cy="204.2" r="0.5" fill="#2a7bbf"/>
<circle cx="68.7" cy="194.5" r="0.6" fill="#2a7bbf"/>
<circle cx="61.9" cy="173.2" r="0.6" fill="#2a7bbf"/>
<circle cx="63.8" cy="184.5" r="0.6" fill="#2a7bbf"/>
<circle cx="61.0" cy="196.0" r="0.5" fill="#2a7bbf"/>
<circle cx="62.2" cy="214.4" r="0.6" fill="#2a7bbf"/>
<circle cx="62.9" cy="213.3" r="0.55" fill="#2a7bbf"/>
<circle cx="64.8" cy="173.2" r="0.7" fill="#2a7bbf"/>
<circle cx="64.0" cy="209.5" r="0.7" fill="#2a7bbf"/>
<circle cx="64.4" cy="183.4" r="0.5" fill="#2a7bbf"/>
<circle cx="80.6" cy="194.0" r="0.6" fill="#2a7bbf"/>
<circle cx="76.1" cy="214.7" r="0.5" fill="#2a7bbf"/>
<circle cx="70.4" cy="189.9" r="0.5" fill="#2a7bbf"/>
<circle cx="66.5" cy="200.3" r="0.55" fill="#2a7bbf"/>
<circle cx="71.2" cy="177.8" r="0.5" fill="#2a7bbf"/>
<circle cx="80.8" cy="204.0" r="0.7" fill="#2a7bbf"/>
<circle cx="64.3" cy="213.4" r="0.5" fill="#2a7bbf"/>
<circle cx="67.8" cy="215.7" r="0.7" fill="#2a7bbf"/>
<circle cx="79.4" cy="194.2" r="0.6" fill="#2a7bbf"/>
<circle cx="83.0" cy="206.3" r="0.5" fill="#2a7bbf"/>
<circle cx="68.7" cy="215.2" r="0.5" fill="#2a7bbf"/>
<circle cx="61.7" cy="220.8" r="0.6" fill="#2a7bbf"/>
<circle cx="62.7" cy="180.8" r="0.7" fill="#2a7bbf"/>
<circle cx="80.7" cy="204.0" r="0.5" fill="#2a7bbf"/>
<circle cx="69.9" cy="214.3" r="0.55" fill="#2a7bbf"/>
<circle cx="79.9" cy="209.8" r="0.6" fill="#2a7bbf"/>
<circle cx="78.0" cy="209.7" r="0.55" fill="#2a7bbf"/>
<circle cx="68.3" cy="211.9" r="0.6" fill="#2a7bbf"/>
<circle cx="79.1" cy="200.4" r="0.6" fill="#2a7bbf"/>
<circle cx="71.7" cy="209.1" r="0.6" fill="#2a7bbf"/>
<circle cx="66.7" cy="203.2" r="0.6" fill="#2a7bbf"/>
<circle cx="75.2" cy="145.9" r="0.5" fill="#2a7bbf"/>
<circle cx="67.7" cy="210.1" r="0.6" fill="#2a7bbf"/>
<circle cx="82.4" cy="216.7" r="0.5" fill="#2a7bbf"/>
<circle cx="61.5" cy="184.5" r="0.7" fill="#2a7bbf"/>
<circle cx="61.7" cy="200.9" r="0.6" fill="#2a7bbf"/>
<circle cx="61.7" cy="217.3" r="0.7" fill="#2a7bbf"/>
<circle cx="75.3" cy="197.4" r="0.7" fill="#2a7bbf"/>
<circle cx="74.6" cy="196.9" r="0.5" fill="#2a7bbf"/>
<circle cx="75.5" cy="214.3" r="0.7" fill="#2a7bbf"/>
<circle cx="64.5" cy="196.4" r="0.55" fill="#2a7bbf"/>
<circle cx="70.0" cy="170.4" r="0.5" fill="#2a7bbf"/>
<circle cx="75.3" cy="157.8" r="0.6" fill="#2a7bbf"/>
<circle cx="63.7" cy="169.9" r="0.6" fill="#2a7bbf"/>
<circle cx="66.4" cy="199.9" r="0.6" fill="#2a7bbf"/>
<circle cx="61.4" cy="215.0" r="0.5" fill="#2a7bbf"/>
<circle cx="75.0" cy="206.1" r="0.5" fill="#2a7bbf"/>
<circle cx="72.3" cy="203.5" r="0.5" fill="#2a7bbf"/>
<circle cx="70.0" cy="186.1" r="0.7" fill="#2a7bbf"/>
<circle cx="61.0" cy="205.5" r="0.7" fill="#2a7bbf"/>
<circle cx="82.8" cy="198.2" r="0.55" fill="#2a7bbf"/>
<circle cx="69.8" cy="204.4" r="0.5" fill="#2a7bbf"/>
<circle cx="71.2" cy="218.1" r="0.55" fill="#2a7bbf"/>
<circle cx="70.2" cy="196.3" r="0.5" fill="#2a7bbf"/>
<circle cx="63.4" cy="193.2" r="0.5" fill="#2a7bbf"/>
<circle cx="63.3" cy="214.1" r="0.7" fill="#2a7bbf"/>
<circle cx="76.7" cy="221.0" r="0.55" fill="#2a7bbf"/>
<circle cx="77.3" cy="205.3" r="0.5" fill="#2a7bbf"/>
<circle cx="77.3" cy="208.7" r="0.55" fill="#2a7bbf"/>
<circle cx="62.5" cy="190.6" r="0.7" fill="#2a7bbf"/>
<circle cx="81.4" cy="205.0" r="0.6" fill="#2a7bbf"/>
<circle cx="61.8" cy="158.0" r="0.5" fill="#2a7bbf"/>
<circle cx="61.0" cy="221.5" r="0.5" fill="#2a7bbf"/>
<circle cx="67.6" cy="207.8" r="0.55" fill="#2a7bbf"/>
<circle cx="79.3" cy="148.8" r="0.5" fill="#2a7bbf"/>
<circle cx="81.8" cy="210.7" r="0.7" fill="#2a7bbf"/>
<circle cx="64.4" cy="204.6" r="0.5" fill="#2a7bbf"/>
<circle cx="75.0" cy="208.8" r="0.7" fill="#2a7bbf"/>
<circle cx="78.0" cy="204.3" r="0.7" fill="#2a7bbf"/>
<circle cx="78.2" cy="150.9" r="0.6" fill="#2a7bbf"/>
<circle cx="62.0" cy="211.6" r="0.6" fill="#2a7bbf"/>
<circle cx="76.8" cy="170.4" r="0.5" fill="#2a7bbf"/>
<circle cx="74.1" cy="177.1" r="0.6" fill="#2a7bbf"/>
<circle cx="82.4" cy="198.7" r="0.55" fill="#2a7bbf"/>
<circle cx="75.9" cy="208.3" r="0.55" fill="#2a7bbf"/>
<circle cx="67.0" cy="181.0" r="0.5" fill="#2a7bbf"/>
<circle cx="66.6" cy="210.5" r="0.55" fill="#2a7bbf"/>
<circle cx="78.9" cy="198.6" r="0.5" fill="#2a7bbf"/>
<circle cx="63.8" cy="211.8" r="0.55" fill="#2a7bbf"/>
<circle cx="79.6" cy="212.4" r="0.7" fill="#2a7bbf"/>
<circle cx="62.5" cy="209.5" r="0.7" fill="#2a7bbf"/>
<circle cx="65.1" cy="182.5" r="0.55" fill="#2a7bbf"/>
<circle cx="61.9" cy="210.9" r="0.7" fill="#2a7bbf"/>
<circle cx="65.3" cy="204.8" r="0.6" fill="#2a7bbf"/>
<circle cx="60.8" cy="198.6" r="0.7" fill="#2a7bbf"/>
<circle cx="62.6" cy="205.0" r="0.6" fill="#2a7bbf"/>
<circle cx="65.8" cy="186.3" r="0.6" fill="#2a7bbf"/>
<circle cx="72.3" cy="167.2" r="0.7" fill="#2a7bbf"/>
<circle cx="65.1" cy="203.1" r="0.55" fill="#2a7bbf"/>
<circle cx="64.7" cy="214.8" r="0.6" fill="#2a7bbf"/>
<circle cx="73.2" cy="208.8" r="0.7" fill="#2a7bbf"/>
<circle cx="79.8" cy="185.2" r="0.55" fill="#2a7bbf"/>
<circle cx="82.9" cy="219.5" r="0.6" fill="#2a7bbf"/>
<circle cx="68.9" cy="171.0" r="0.7" fill="#2a7bbf"/>
<circle cx="64.1" cy="184.0" r="0.5" fill="#2a7bbf"/>
<circle cx="72.2" cy="209.5" r="0.5" fill="#2a7bbf"/>
<circle cx="65.2" cy="217.7" r="0.7" fill="#2a7bbf"/>
<circle cx="65.4" cy="198.6" r="0.6" fill="#2a7bbf"/>
<circle cx="81.8" cy="206.3" r="0.55" fill="#2a7bbf"/>
<circle cx="61.5" cy="213.1" r="0.55" fill="#2a7bbf"/>
<circle cx="69.1" cy="142.7" r="0.5" fill="#2a7bbf"/>
<circle cx="73.1" cy="219.3" r="0.7" fill="#2a7bbf"/>
<circle cx="79.5" cy="203.9" r="0.5" fill="#2a7bbf"/>
<circle cx="74.9" cy="171.6" r="0.5" fill="#2a7bbf"/>
<circle cx="62.6" cy="191.9" r="0.6" fill="#2a7bbf"/>
<circle cx="74.9" cy="199.8" r="0.7" fill="#2a7bbf"/>
<circle cx="79.6" cy="215.1" r="0.6" fill="#2a7bbf"/>
<circle cx="82.8" cy="147.4" r="0.55" fill="#2a7bbf"/>
<circle cx="81.7" cy="215.4" r="0.6" fill="#2a7bbf"/>
<circle cx="73.0" cy="219.0" r="0.5" fill="#2a7bbf"/>
<circle cx="61.7" cy="176.2" r="0.7" fill="#2a7bbf"/>
<circle cx="63.9" cy="219.1" r="0.5" fill="#2a7bbf"/>
<circle cx="75.7" cy="151.8" r="0.6" fill="#2a7bbf"/>
<circle cx="70.5" cy="198.4" r="0.5" fill="#2a7bbf"/>
<circle cx="68.9" cy="204.6" r="0.7" fill="#2a7bbf"/>
<circle cx="71.4" cy="216.8" r="0.55" fill="#2a7bbf"/>
<circle cx="78.7" cy="205.7" r="0.5" fill="#2a7bbf"/>
<circle cx="81.0" cy="204.7" r="0.5" fill="#2a7bbf"/>
<circle cx="79.2" cy="215.8" r="0.5" fill="#2a7bbf"/>
<circle cx="80.0" cy="152.7" r="0.55" fill="#2a7bbf"/>
<circle cx="82.0" cy="185.4" r="0.7" fill="#2a7bbf"/>
<circle cx="74.7" cy="175.3" r="0.7" fill="#2a7bbf"/>
<circle cx="67.8" cy="146.4" r="0.55" fill="#2a7bbf"/>
<circle cx="74.7" cy="204.3" r="0.55" fill="#2a7bbf"/>
<circle cx="77.1" cy="210.1" r="0.55" fill="#2a7bbf"/>
<circle cx="73.0" cy="191.5" r="0.55" fill="#2a7bbf"/>
<circle cx="64.0" cy="205.8" r="0.7" fill="#2a7bbf"/>
<circle cx="64.1" cy="206.9" r="0.6" fill="#2a7bbf"/>
<circle cx="67.3" cy="199.5" r="0.55" fill="#2a7bbf"/>
<circle cx="63.1" cy="212.9" r="0.7" fill="#2a7bbf"/>
<circle cx="63.2" cy="162.8" r="0.5" fill="#2a7bbf"/>
<circle cx="78.2" cy="196.1" r="0.55" fill="#2a7bbf"/>
<circle cx="79.3" cy="200.1" r="0.5" fill="#2a7bbf"/>
<circle cx="65.1" cy="213.0" r="0.6" fill="#2a7bbf"/>
<circle cx="66.5" cy="206.1" r="0.55" fill="#2a7bbf"/>
<circle cx="62.8" cy="154.2" r="0.6" fill="#2a7bbf"/>
<circle cx="64.3" cy="206.7" r="0.6" fill="#2a7bbf"/>
<circle cx="74.9" cy="216.2" r="0.7" fill="#2a7bbf"/>
<circle cx="68.2" cy="181.0" r="0.55" fill="#2a7bbf"/>
<circle cx="78.3" cy="205.7" r="0.6" fill="#2a7bbf"/>
<circle cx="70.4" cy="215.0" r="0.7" fill="#2a7bbf"/>
<circle cx="73.4" cy="214.1" r="0.55" fill="#2a7bbf"/>
<circle cx="72.3" cy="175.1" r="0.55" fill="#2a7bbf"/>
<circle cx="65.0" cy="191.6" r="0.5" fill="#2a7bbf"/>
<circle cx="80.5" cy="177.5" r="0.7" fill="#2a7bbf"/>
<circle cx="64.6" cy="187.9" r="0.55" fill="#2a7bbf"/>
<circle cx="76.4" cy="197.1" r="0.55" fill="#2a7bbf"/>
<line x1="127.50" y1="141.80" x2="127.50" y2="175.50" stroke="#f0e6b6" stroke-width="1" />
<line x1="127.50" y1="202.50" x2="127.50" y2="222.30" stroke="#f0e6b6" stroke-width="1" />
<rect x="107.50" y="175.50" width="40.00" height="27.00" fill="none" stroke="#f0e6b6" stroke-width="1"/>
<line x1="107.50" y1="192.50" x2="147.50" y2="192.50" stroke="#e5cc6a" stroke-width="1" />
<circle cx="121.0" cy="186.8" r="0.5" fill="#e3b51c"/>
<circle cx="128.0" cy="179.4" r="0.5" fill="#e3b51c"/>
<circle cx="124.2" cy="191.2" r="0.6" fill="#e3b51c"/>
<circle cx="135.7" cy="165.1" r="0.7" fill="#e3b51c"/>
<circle cx="125.6" cy="212.4" r="0.7" fill="#e3b51c"/>
<circle cx="131.3" cy="209.5" r="0.55" fill="#e3b51c"/>
<circle cx="135.0" cy="206.2" r="0.6" fill="#e3b51c"/>
<circle cx="132.1" cy="216.7" r="0.5" fill="#e3b51c"/>
<circle cx="137.2" cy="198.3" r="0.5" fill="#e3b51c"/>
<circle cx="132.4" cy="210.3" r="0.6" fill="#e3b51c"/>
<circle cx="135.8" cy="172.3" r="0.5" fill="#e3b51c"/>
<circle cx="118.8" cy="200.9" r="0.7" fill="#e3b51c"/>
<circle cx="117.0" cy="194.6" r="0.55" fill="#e3b51c"/>
<circle cx="138.0" cy="218.6" r="0.55" fill="#e3b51c"/>
<circle cx="120.2" cy="184.4" r="0.6" fill="#e3b51c"/>
<circle cx="134.7" cy="202.6" r="0.5" fill="#e3b51c"/>
<circle cx="137.1" cy="218.8" r="0.55" fill="#e3b51c"/>
<circle cx="135.1" cy="202.1" r="0.7" fill="#e3b51c"/>
<circle cx="132.1" cy="190.9" r="0.5" fill="#e3b51c"/>
<circle cx="118.5" cy="198.5" r="0.55" fill="#e3b51c"/>
<circle cx="119.2" cy="215.9" r="0.7" fill="#e3b51c"/>
<circle cx="133.4" cy="186.6" r="0.5" fill="#e3b51c"/>
<circle cx="125.5" cy="210.2" r="0.55" fill="#e3b51c"/>
<circle cx="121.5" cy="189.6" r="0.55" fill="#e3b51c"/>
<circle cx="129.2" cy="208.6" r="0.7" fill="#e3b51c"/>
<circle cx="134.9" cy="207.5" r="0.7" fill="#e3b51c"/>
<circle cx="129.8" cy="179.3" r="0.5" fill="#e3b51c"/>
<circle cx="137.4" cy="196.7" r="0.6" fill="#e3b51c"/>
<circle cx="121.8" cy="199.0" r="0.6" fill="#e3b51c"/>
<circle cx="135.3" cy="177.8" r="0.6" fill="#e3b51c"/>
<circle cx="135.4" cy="168.3" r="0.5" fill="#e3b51c"/>
<circle cx="119.7" cy="199.5" r="0.6" fill="#e3b51c"/>
<circle cx="125.9" cy="202.6" r="0.5" fill="#e3b51c"/>
<circle cx="128.3" cy="197.9" r="0.5" fill="#e3b51c"/>
<circle cx="120.9" cy="199.6" r="0.5" fill="#e3b51c"/>
<circle cx="125.8" cy="204.0" r="0.7" fill="#e3b51c"/>
<circle cx="137.4" cy="172.6" r="0.5" fill="#e3b51c"/>
<circle cx="136.2" cy="168.9" r="0.5" fill="#e3b51c"/>
<circle cx="130.8" cy="216.9" r="0.6" fill="#e3b51c"/>
<circle cx="130.4" cy="154.8" r="0.5" fill="#e3b51c"/>
<circle cx="122.0" cy="184.2" r="0.5" fill="#e3b51c"/>
<circle cx="137.7" cy="195.1" r="0.6" fill="#e3b51c"/>
<circle cx="124.2" cy="210.8" r="0.55" fill="#e3b51c"/>
<circle cx="129.7" cy="210.3" r="0.6" fill="#e3b51c"/>
<circle cx="129.6" cy="212.8" r="0.55" fill="#e3b51c"/>
<circle cx="127.9" cy="194.8" r="0.6" fill="#e3b51c"/>
<circle cx="129.3" cy="155.1" r="0.6" fill="#e3b51c"/>
<circle cx="118.4" cy="203.0" r="0.6" fill="#e3b51c"/>
<circle cx="130.1" cy="165.3" r="0.55" fill="#e3b51c"/>
<circle cx="120.9" cy="182.2" r="0.6" fill="#e3b51c"/>
<circle cx="128.7" cy="194.0" r="0.7" fill="#e3b51c"/>
<circle cx="123.4" cy="193.7" r="0.55" fill="#e3b51c"/>
<circle cx="120.7" cy="199.2" r="0.7" fill="#e3b51c"/>
<circle cx="125.3" cy="141.9" r="0.6" fill="#e3b51c"/>
<circle cx="137.7" cy="207.7" r="0.6" fill="#e3b51c"/>
<circle cx="127.4" cy="188.6" r="0.6" fill="#e3b51c"/>
<circle cx="121.3" cy="160.5" r="0.5" fill="#e3b51c"/>
<circle cx="120.0" cy="173.1" r="0.5" fill="#e3b51c"/>
<circle cx="124.2" cy="185.2" r="0.5" fill="#e3b51c"/>
<circle cx="135.1" cy="191.3" r="0.6" fill="#e3b51c"/>
<circle cx="118.9" cy="176.5" r="0.55" fill="#e3b51c"/>
<circle cx="131.6" cy="141.8" r="0.55" fill="#e3b51c"/>
<circle cx="131.4" cy="195.8" r="0.55" fill="#e3b51c"/>
<circle cx="130.2" cy="180.5" r="0.6" fill="#e3b51c"/>
<circle cx="128.0" cy="167.5" r="0.7" fill="#e3b51c"/>
<circle cx="130.5" cy="201.8" r="0.55" fill="#e3b51c"/>
<circle cx="118.7" cy="195.9" r="0.7" fill="#e3b51c"/>
<circle cx="129.5" cy="173.8" r="0.7" fill="#e3b51c"/>
<circle cx="138.6" cy="196.6" r="0.55" fill="#e3b51c"/>
<circle cx="133.9" cy="195.7" r="0.5" fill="#e3b51c"/>
<circle cx="126.5" cy="197.3" r="0.7" fill="#e3b51c"/>
<circle cx="124.3" cy="201.0" r="0.6" fill="#e3b51c"/>
<circle cx="128.8" cy="196.9" r="0.7" fill="#e3b51c"/>
<circle cx="116.6" cy="182.4" r="0.7" fill="#e3b51c"/>
<circle cx="123.1" cy="197.3" r="0.6" fill="#e3b51c"/>
<circle cx="126.2" cy="169.6" r="0.7" fill="#e3b51c"/>
<circle cx="118.4" cy="186.9" r="0.6" fill="#e3b51c"/>
<circle cx="135.3" cy="199.6" r="0.55" fill="#e3b51c"/>
<circle cx="121.0" cy="145.8" r="0.7" fill="#e3b51c"/>
<circle cx="137.8" cy="158.7" r="0.5" fill="#e3b51c"/>
<circle cx="129.0" cy="215.7" r="0.7" fill="#e3b51c"/>
<circle cx="128.4" cy="200.6" r="0.6" fill="#e3b51c"/>
<circle cx="138.7" cy="189.8" r="0.7" fill="#e3b51c"/>
<circle cx="124.4" cy="196.9" r="0.6" fill="#e3b51c"/>
<circle cx="116.7" cy="194.3" r="0.5" fill="#e3b51c"/>
<line x1="387.50" y1="136.80" x2="387.50" y2="227.00" stroke="#3d3d3d" stroke-width="1" />
<line x1="387.00" y1="226.50" x2="511.30" y2="226.50" stroke="#3d3d3d" stroke-width="1" />
<line x1="385.50" y1="224.50" x2="387.50" y2="224.50" stroke="#3d3d3d" stroke-width="1" />
<text x="384.10" y="228.00" font-size="8.5" text-anchor="end" fill="#262626" stroke="#262626" stroke-width="0.15" >0</text>
<line x1="385.50" y1="204.50" x2="387.50" y2="204.50" stroke="#3d3d3d" stroke-width="1" />
<text x="384.10" y="207.70" font-size="8.5" text-anchor="end" fill="#262626" stroke="#262626" stroke-width="0.15" >10</text>
<line x1="385.50" y1="184.50" x2="387.50" y2="184.50" stroke="#3d3d3d" stroke-width="1" />
<text x="384.10" y="187.50" font-size="8.5" text-anchor="end" fill="#262626" stroke="#262626" stroke-width="0.15" >20</text>
<line x1="385.50" y1="164.50" x2="387.50" y2="164.50" stroke="#3d3d3d" stroke-width="1" />
<text x="384.10" y="167.20" font-size="8.5" text-anchor="end" fill="#262626" stroke="#262626" stroke-width="0.15" >30</text>
<line x1="385.50" y1="143.50" x2="387.50" y2="143.50" stroke="#3d3d3d" stroke-width="1" />
<text x="384.10" y="146.70" font-size="8.5" text-anchor="end" fill="#262626" stroke="#262626" stroke-width="0.15" >40</text>
<line x1="420.50" y1="226.50" x2="420.50" y2="228.70" stroke="#6a6a6a" stroke-width="1" />
<text x="421.00" y="237.80" font-size="8.5" text-anchor="middle" fill="#262626" stroke="#262626" stroke-width="0.15" >0</text>
<line x1="477.50" y1="226.50" x2="477.50" y2="228.70" stroke="#6a6a6a" stroke-width="1" />
<text x="477.20" y="237.80" font-size="8.5" text-anchor="middle" fill="#262626" stroke="#262626" stroke-width="0.15" >1</text>
<text x="368.10" y="181.05" font-size="8.36" text-anchor="middle" fill="#262626" stroke="#262626" stroke-width="0.1" transform="rotate(-90 368.10 181.05)">uNAG, U/g Cre</text>
<text x="426.00" y="137.30" font-size="5.6" text-anchor="start" fill="#262626" stroke="#262626" stroke-width="0.18" >Wilcoxon, P=0.036</text>
<line x1="420.50" y1="141.80" x2="420.50" y2="180.50" stroke="#b3cce0" stroke-width="1" />
<line x1="420.50" y1="213.50" x2="420.50" y2="222.00" stroke="#b3cce0" stroke-width="1" />
<rect x="401.50" y="180.50" width="39.00" height="33.00" fill="none" stroke="#b3cce0" stroke-width="1"/>
<line x1="401.50" y1="198.50" x2="440.50" y2="198.50" stroke="#6a9bc8" stroke-width="1" />
<circle cx="412.0" cy="196.7" r="0.6" fill="#2a7bbf"/>
<circle cx="424.3" cy="198.4" r="0.55" fill="#2a7bbf"/>
<circle cx="431.4" cy="162.8" r="0.7" fill="#2a7bbf"/>
<circle cx="427.0" cy="204.4" r="0.6" fill="#2a7bbf"/>
<circle cx="426.5" cy="184.5" r="0.5" fill="#2a7bbf"/>
<circle cx="416.9" cy="215.4" r="0.5" fill="#2a7bbf"/>
<circle cx="421.3" cy="170.5" r="0.5" fill="#2a7bbf"/>
<circle cx="416.4" cy="187.1" r="0.6" fill="#2a7bbf"/>
<circle cx="432.0" cy="171.2" r="0.7" fill="#2a7bbf"/>
<circle cx="421.5" cy="188.9" r="0.55" fill="#2a7bbf"/>
<circle cx="414.0" cy="198.1" r="0.55" fill="#2a7bbf"/>
<circle cx="422.5" cy="218.7" r="0.5" fill="#2a7bbf"/>
<circle cx="432.1" cy="207.3" r="0.5" fill="#2a7bbf"/>
<circle cx="410.0" cy="184.5" r="0.5" fill="#2a7bbf"/>
<circle cx="425.3" cy="210.0" r="0.5" fill="#2a7bbf"/>
<circle cx="418.7" cy="156.7" r="0.5" fill="#2a7bbf"/>
<circle cx="424.8" cy="192.2" r="0.55" fill="#2a7bbf"/>
<circle cx="427.0" cy="215.3" r="0.6" fill="#2a7bbf"/>
<circle cx="429.9" cy="164.1" r="0.55" fill="#2a7bbf"/>
<circle cx="419.0" cy="193.0" r="0.5" fill="#2a7bbf"/>
<circle cx="421.4" cy="216.1" r="0.5" fill="#2a7bbf"/>
<circle cx="411.5" cy="219.9" r="0.7" fill="#2a7bbf"/>
<circle cx="423.5" cy="170.9" r="0.5" fill="#2a7bbf"/>
<circle cx="425.1" cy="187.5" r="0.6" fill="#2a7bbf"/>
<circle cx="415.1" cy="216.1" r="0.6" fill="#2a7bbf"/>
<circle cx="415.8" cy="215.4" r="0.5" fill="#2a7bbf"/>
<circle cx="431.1" cy="165.9" r="0.5" fill="#2a7bbf"/>
<circle cx="419.9" cy="207.5" r="0.7" fill="#2a7bbf"/>
<circle cx="414.7" cy="220.5" r="0.7" fill="#2a7bbf"/>
<circle cx="431.3" cy="192.4" r="0.7" fill="#2a7bbf"/>
<circle cx="415.1" cy="218.8" r="0.55" fill="#2a7bbf"/>
<circle cx="430.7" cy="219.3" r="0.55" fill="#2a7bbf"/>
<circle cx="430.0" cy="209.5" r="0.7" fill="#2a7bbf"/>
<circle cx="423.3" cy="210.2" r="0.7" fill="#2a7bbf"/>
<circle cx="411.3" cy="141.7" r="0.7" fill="#2a7bbf"/>
<circle cx="422.9" cy="185.7" r="0.7" fill="#2a7bbf"/>
<circle cx="429.4" cy="209.9" r="0.7" fill="#2a7bbf"/>
<circle cx="429.3" cy="220.2" r="0.5" fill="#2a7bbf"/>
<circle cx="417.8" cy="215.3" r="0.55" fill="#2a7bbf"/>
<circle cx="429.6" cy="221.4" r="0.7" fill="#2a7bbf"/>
<circle cx="412.3" cy="194.0" r="0.7" fill="#2a7bbf"/>
<circle cx="424.4" cy="208.3" r="0.5" fill="#2a7bbf"/>
<circle cx="430.3" cy="203.1" r="0.55" fill="#2a7bbf"/>
<circle cx="420.3" cy="205.2" r="0.6" fill="#2a7bbf"/>
<circle cx="410.5" cy="213.7" r="0.5" fill="#2a7bbf"/>
<circle cx="413.3" cy="208.0" r="0.55" fill="#2a7bbf"/>
<circle cx="415.8" cy="217.6" r="0.55" fill="#2a7bbf"/>
<circle cx="420.3" cy="194.5" r="0.55" fill="#2a7bbf"/>
<circle cx="417.7" cy="215.7" r="0.7" fill="#2a7bbf"/>
<circle cx="431.3" cy="205.8" r="0.55" fill="#2a7bbf"/>
<circle cx="420.5" cy="210.6" r="0.55" fill="#2a7bbf"/>
<circle cx="419.9" cy="214.0" r="0.55" fill="#2a7bbf"/>
<circle cx="432.2" cy="151.8" r="0.7" fill="#2a7bbf"/>
<circle cx="418.0" cy="192.1" r="0.55" fill="#2a7bbf"/>
<circle cx="421.2" cy="204.2" r="0.55" fill="#2a7bbf"/>
<circle cx="412.5" cy="163.9" r="0.5" fill="#2a7bbf"/>
<circle cx="415.8" cy="195.4" r="0.7" fill="#2a7bbf"/>
<circle cx="425.9" cy="219.9" r="0.55" fill="#2a7bbf"/>
<circle cx="418.5" cy="209.8" r="0.5" fill="#2a7bbf"/>
<circle cx="427.2" cy="184.3" r="0.55" fill="#2a7bbf"/>
<circle cx="424.7" cy="209.2" r="0.5" fill="#2a7bbf"/>
<circle cx="430.3" cy="218.4" r="0.6" fill="#2a7bbf"/>
<circle cx="425.9" cy="214.8" r="0.5" fill="#2a7bbf"/>
<circle cx="412.6" cy="214.0" r="0.7" fill="#2a7bbf"/>
<circle cx="418.8" cy="211.5" r="0.7" fill="#2a7bbf"/>
<circle cx="429.6" cy="177.1" r="0.55" fill="#2a7bbf"/>
<circle cx="413.7" cy="153.0" r="0.6" fill="#2a7bbf"/>
<circle cx="424.7" cy="185.4" r="0.6" fill="#2a7bbf"/>
<circle cx="410.3" cy="160.1" r="0.7" fill="#2a7bbf"/>
<circle cx="428.8" cy="213.4" r="0.6" fill="#2a7bbf"/>
<circle cx="412.0" cy="158.7" r="0.6" fill="#2a7bbf"/>
<circle cx="430.3" cy="216.9" r="0.55" fill="#2a7bbf"/>
<circle cx="410.7" cy="182.9" r="0.5" fill="#2a7bbf"/>
<circle cx="419.4" cy="190.6" r="0.6" fill="#2a7bbf"/>
<circle cx="426.4" cy="215.8" r="0.6" fill="#2a7bbf"/>
<circle cx="430.9" cy="189.0" r="0.55" fill="#2a7bbf"/>
<circle cx="425.9" cy="193.4" r="0.6" fill="#2a7bbf"/>
<circle cx="424.8" cy="155.2" r="0.6" fill="#2a7bbf"/>
<circle cx="412.3" cy="153.2" r="0.6" fill="#2a7bbf"/>
<circle cx="429.4" cy="159.5" r="0.5" fill="#2a7bbf"/>
<circle cx="425.1" cy="141.8" r="0.5" fill="#2a7bbf"/>
<circle cx="414.5" cy="175.0" r="0.6" fill="#2a7bbf"/>
<circle cx="411.7" cy="180.2" r="0.7" fill="#2a7bbf"/>
<circle cx="423.6" cy="141.5" r="0.55" fill="#2a7bbf"/>
<circle cx="411.8" cy="211.5" r="0.7" fill="#2a7bbf"/>
<circle cx="417.4" cy="201.9" r="0.7" fill="#2a7bbf"/>
<circle cx="425.0" cy="197.9" r="0.55" fill="#2a7bbf"/>
<circle cx="421.3" cy="202.8" r="0.55" fill="#2a7bbf"/>
<circle cx="414.0" cy="199.1" r="0.6" fill="#2a7bbf"/>
<circle cx="413.4" cy="215.3" r="0.55" fill="#2a7bbf"/>
<circle cx="415.4" cy="195.3" r="0.5" fill="#2a7bbf"/>
<circle cx="417.6" cy="215.5" r="0.5" fill="#2a7bbf"/>
<circle cx="416.7" cy="214.6" r="0.55" fill="#2a7bbf"/>
<circle cx="420.7" cy="184.9" r="0.7" fill="#2a7bbf"/>
<circle cx="415.2" cy="213.7" r="0.7" fill="#2a7bbf"/>
<circle cx="424.2" cy="216.4" r="0.6" fill="#2a7bbf"/>
<circle cx="425.7" cy="216.4" r="0.55" fill="#2a7bbf"/>
<circle cx="428.1" cy="208.4" r="0.7" fill="#2a7bbf"/>
<circle cx="413.6" cy="178.9" r="0.55" fill="#2a7bbf"/>
<circle cx="420.1" cy="191.3" r="0.7" fill="#2a7bbf"/>
<circle cx="412.3" cy="169.8" r="0.6" fill="#2a7bbf"/>
<circle cx="420.7" cy="221.0" r="0.5" fill="#2a7bbf"/>
<circle cx="416.1" cy="218.6" r="0.55" fill="#2a7bbf"/>
<circle cx="416.7" cy="217.1" r="0.5" fill="#2a7bbf"/>
<circle cx="419.8" cy="215.6" r="0.6" fill="#2a7bbf"/>
<circle cx="422.3" cy="211.0" r="0.5" fill="#2a7bbf"/>
<circle cx="432.1" cy="221.1" r="0.7" fill="#2a7bbf"/>
<circle cx="425.9" cy="217.9" r="0.6" fill="#2a7bbf"/>
<circle cx="420.7" cy="217.1" r="0.7" fill="#2a7bbf"/>
<circle cx="427.4" cy="199.2" r="0.6" fill="#2a7bbf"/>
<circle cx="430.4" cy="221.3" r="0.6" fill="#2a7bbf"/>
<circle cx="430.8" cy="189.1" r="0.6" fill="#2a7bbf"/>
<circle cx="411.5" cy="187.3" r="0.5" fill="#2a7bbf"/>
<circle cx="418.6" cy="220.0" r="0.55" fill="#2a7bbf"/>
<circle cx="413.9" cy="210.6" r="0.55" fill="#2a7bbf"/>
<circle cx="425.9" cy="217.3" r="0.6" fill="#2a7bbf"/>
<circle cx="417.1" cy="180.8" r="0.55" fill="#2a7bbf"/>
<circle cx="417.8" cy="187.7" r="0.55" fill="#2a7bbf"/>
<circle cx="422.1" cy="206.3" r="0.6" fill="#2a7bbf"/>
<circle cx="415.5" cy="168.9" r="0.5" fill="#2a7bbf"/>
<circle cx="422.5" cy="219.4" r="0.7" fill="#2a7bbf"/>
<circle cx="431.0" cy="158.8" r="0.7" fill="#2a7bbf"/>
<circle cx="426.2" cy="203.1" r="0.6" fill="#2a7bbf"/>
<circle cx="423.8" cy="191.0" r="0.55" fill="#2a7bbf"/>
<circle cx="413.4" cy="184.7" r="0.7" fill="#2a7bbf"/>
<circle cx="418.8" cy="188.5" r="0.5" fill="#2a7bbf"/>
<circle cx="420.5" cy="167.1" r="0.55" fill="#2a7bbf"/>
<circle cx="409.8" cy="182.2" r="0.7" fill="#2a7bbf"/>
<circle cx="411.4" cy="216.1" r="0.5" fill="#2a7bbf"/>
<circle cx="419.2" cy="197.4" r="0.6" fill="#2a7bbf"/>
<circle cx="410.0" cy="218.6" r="0.55" fill="#2a7bbf"/>
<circle cx="413.5" cy="159.0" r="0.6" fill="#2a7bbf"/>
<circle cx="427.8" cy="221.7" r="0.6" fill="#2a7bbf"/>
<circle cx="420.3" cy="193.6" r="0.6" fill="#2a7bbf"/>
<circle cx="419.4" cy="197.3" r="0.55" fill="#2a7bbf"/>
<circle cx="431.4" cy="141.8" r="0.5" fill="#2a7bbf"/>
<circle cx="411.1" cy="172.5" r="0.6" fill="#2a7bbf"/>
<circle cx="416.4" cy="190.5" r="0.7" fill="#2a7bbf"/>
<circle cx="420.6" cy="148.7" r="0.55" fill="#2a7bbf"/>
<circle cx="417.5" cy="210.5" r="0.5" fill="#2a7bbf"/>
<circle cx="414.8" cy="167.4" r="0.7" fill="#2a7bbf"/>
<circle cx="413.1" cy="184.5" r="0.6" fill="#2a7bbf"/>
<circle cx="431.0" cy="194.5" r="0.6" fill="#2a7bbf"/>
<circle cx="422.5" cy="196.3" r="0.7" fill="#2a7bbf"/>
<circle cx="414.9" cy="212.7" r="0.55" fill="#2a7bbf"/>
<circle cx="412.3" cy="195.0" r="0.6" fill="#2a7bbf"/>
<circle cx="414.0" cy="187.5" r="0.6" fill="#2a7bbf"/>
<circle cx="414.9" cy="183.2" r="0.7" fill="#2a7bbf"/>
<circle cx="422.6" cy="214.0" r="0.5" fill="#2a7bbf"/>
<circle cx="430.2" cy="181.3" r="0.5" fill="#2a7bbf"/>
<circle cx="425.0" cy="167.0" r="0.7" fill="#2a7bbf"/>
<circle cx="421.1" cy="216.4" r="0.5" fill="#2a7bbf"/>
<circle cx="431.3" cy="189.2" r="0.5" fill="#2a7bbf"/>
<circle cx="425.2" cy="200.9" r="0.55" fill="#2a7bbf"/>
<circle cx="414.1" cy="142.6" r="0.7" fill="#2a7bbf"/>
<line x1="477.50" y1="142.70" x2="477.50" y2="172.50" stroke="#f0e6b6" stroke-width="1" />
<line x1="477.50" y1="202.50" x2="477.50" y2="222.30" stroke="#f0e6b6" stroke-width="1" />
<rect x="457.50" y="172.50" width="40.00" height="30.00" fill="none" stroke="#f0e6b6" stroke-width="1"/>
<line x1="457.50" y1="194.50" x2="497.50" y2="194.50" stroke="#e5cc6a" stroke-width="1" />
<circle cx="469.0" cy="169.9" r="0.5" fill="#e3b51c"/>
<circle cx="467.0" cy="197.7" r="0.5" fill="#e3b51c"/>
<circle cx="479.3" cy="219.5" r="0.55" fill="#e3b51c"/>
<circle cx="468.7" cy="196.0" r="0.55" fill="#e3b51c"/>
<circle cx="485.9" cy="197.0" r="0.55" fill="#e3b51c"/>
<circle cx="486.6" cy="189.1" r="0.6" fill="#e3b51c"/>
<circle cx="482.7" cy="207.1" r="0.6" fill="#e3b51c"/>
<circle cx="482.5" cy="167.0" r="0.5" fill="#e3b51c"/>
<circle cx="468.7" cy="164.8" r="0.6" fill="#e3b51c"/>
<circle cx="477.8" cy="193.6" r="0.6" fill="#e3b51c"/>
<circle cx="466.9" cy="174.8" r="0.6" fill="#e3b51c"/>
<circle cx="478.3" cy="211.5" r="0.5" fill="#e3b51c"/>
<circle cx="486.4" cy="216.8" r="0.55" fill="#e3b51c"/>
<circle cx="470.3" cy="202.2" r="0.7" fill="#e3b51c"/>
<circle cx="488.2" cy="218.4" r="0.7" fill="#e3b51c"/>
<circle cx="466.4" cy="210.6" r="0.5" fill="#e3b51c"/>
<circle cx="471.8" cy="213.4" r="0.55" fill="#e3b51c"/>
<circle cx="472.5" cy="189.9" r="0.7" fill="#e3b51c"/>
<circle cx="479.2" cy="163.7" r="0.6" fill="#e3b51c"/>
<circle cx="481.5" cy="191.3" r="0.6" fill="#e3b51c"/>
<circle cx="466.3" cy="149.3" r="0.6" fill="#e3b51c"/>
<circle cx="476.9" cy="142.5" r="0.7" fill="#e3b51c"/>
<circle cx="484.0" cy="159.7" r="0.5" fill="#e3b51c"/>
<circle cx="479.9" cy="213.4" r="0.7" fill="#e3b51c"/>
<circle cx="487.7" cy="163.0" r="0.7" fill="#e3b51c"/>
<circle cx="485.6" cy="198.0" r="0.5" fill="#e3b51c"/>
<circle cx="477.8" cy="199.0" r="0.6" fill="#e3b51c"/>
<circle cx="479.2" cy="157.2" r="0.5" fill="#e3b51c"/>
<circle cx="484.4" cy="204.5" r="0.7" fill="#e3b51c"/>
<circle cx="476.5" cy="199.9" r="0.6" fill="#e3b51c"/>
<circle cx="473.5" cy="200.4" r="0.7" fill="#e3b51c"/>
<circle cx="466.4" cy="199.8" r="0.7" fill="#e3b51c"/>
<circle cx="479.6" cy="159.3" r="0.55" fill="#e3b51c"/>
<circle cx="469.2" cy="174.4" r="0.7" fill="#e3b51c"/>
<circle cx="477.2" cy="201.6" r="0.6" fill="#e3b51c"/>
<circle cx="478.9" cy="199.1" r="0.55" fill="#e3b51c"/>
<circle cx="466.7" cy="142.6" r="0.5" fill="#e3b51c"/>
<circle cx="483.4" cy="159.8" r="0.5" fill="#e3b51c"/>
<circle cx="472.3" cy="198.9" r="0.55" fill="#e3b51c"/>
<circle cx="487.1" cy="159.7" r="0.5" fill="#e3b51c"/>
<circle cx="483.1" cy="200.7" r="0.6" fill="#e3b51c"/>
<circle cx="480.2" cy="194.0" r="0.6" fill="#e3b51c"/>
<circle cx="482.0" cy="159.7" r="0.6" fill="#e3b51c"/>
<circle cx="473.5" cy="214.5" r="0.6" fill="#e3b51c"/>
<circle cx="483.6" cy="158.5" r="0.6" fill="#e3b51c"/>
<circle cx="484.2" cy="157.2" r="0.6" fill="#e3b51c"/>
<circle cx="470.6" cy="208.2" r="0.7" fill="#e3b51c"/>
<circle cx="474.9" cy="197.7" r="0.6" fill="#e3b51c"/>
<circle cx="479.2" cy="152.5" r="0.55" fill="#e3b51c"/>
<circle cx="472.9" cy="200.8" r="0.6" fill="#e3b51c"/>
<circle cx="470.2" cy="213.4" r="0.5" fill="#e3b51c"/>
<circle cx="472.8" cy="187.2" r="0.6" fill="#e3b51c"/>
<circle cx="474.0" cy="142.6" r="0.7" fill="#e3b51c"/>
<circle cx="486.7" cy="174.9" r="0.7" fill="#e3b51c"/>
<circle cx="469.9" cy="200.2" r="0.6" fill="#e3b51c"/>
<circle cx="483.0" cy="190.6" r="0.6" fill="#e3b51c"/>
<circle cx="466.4" cy="203.0" r="0.5" fill="#e3b51c"/>
<circle cx="470.5" cy="197.8" r="0.6" fill="#e3b51c"/>
<circle cx="480.5" cy="160.7" r="0.55" fill="#e3b51c"/>
<circle cx="467.2" cy="202.8" r="0.55" fill="#e3b51c"/>
<circle cx="467.7" cy="185.7" r="0.6" fill="#e3b51c"/>
<circle cx="466.1" cy="175.1" r="0.6" fill="#e3b51c"/>
<circle cx="485.6" cy="191.5" r="0.6" fill="#e3b51c"/>
<circle cx="470.7" cy="153.4" r="0.6" fill="#e3b51c"/>
<circle cx="466.6" cy="160.3" r="0.7" fill="#e3b51c"/>
<circle cx="481.2" cy="197.6" r="0.6" fill="#e3b51c"/>
<circle cx="485.4" cy="206.7" r="0.5" fill="#e3b51c"/>
<circle cx="479.7" cy="212.4" r="0.7" fill="#e3b51c"/>
<circle cx="474.9" cy="142.6" r="0.7" fill="#e3b51c"/>
<circle cx="466.5" cy="159.7" r="0.6" fill="#e3b51c"/>
<circle cx="488.2" cy="189.0" r="0.5" fill="#e3b51c"/>
<circle cx="481.9" cy="197.3" r="0.6" fill="#e3b51c"/>
<circle cx="466.4" cy="207.8" r="0.55" fill="#e3b51c"/>
<circle cx="483.2" cy="208.7" r="0.5" fill="#e3b51c"/>
<circle cx="474.1" cy="199.1" r="0.6" fill="#e3b51c"/>
<circle cx="479.2" cy="191.3" r="0.55" fill="#e3b51c"/>
<circle cx="479.5" cy="180.6" r="0.6" fill="#e3b51c"/>
<circle cx="479.9" cy="203.4" r="0.7" fill="#e3b51c"/>
<circle cx="483.4" cy="171.0" r="0.6" fill="#e3b51c"/>
<circle cx="478.3" cy="181.2" r="0.7" fill="#e3b51c"/>
<circle cx="474.1" cy="189.5" r="0.6" fill="#e3b51c"/>
<circle cx="466.2" cy="209.4" r="0.7" fill="#e3b51c"/>
<circle cx="484.2" cy="211.5" r="0.6" fill="#e3b51c"/>
<circle cx="480.1" cy="208.2" r="0.7" fill="#e3b51c"/>
<circle cx="468.0" cy="171.7" r="0.5" fill="#e3b51c"/>
<line x1="38.50" y1="262.80" x2="38.50" y2="353.00" stroke="#3d3d3d" stroke-width="1" />
<line x1="38.00" y1="352.50" x2="158.60" y2="352.50" stroke="#3d3d3d" stroke-width="1" />
<line x1="36.50" y1="337.50" x2="38.50" y2="337.50" stroke="#3d3d3d" stroke-width="1" />
<text x="35.10" y="340.40" font-size="8.5" text-anchor="end" fill="#262626" stroke="#262626" stroke-width="0.15" >500</text>
<line x1="36.50" y1="319.50" x2="38.50" y2="319.50" stroke="#3d3d3d" stroke-width="1" />
<text x="35.10" y="322.90" font-size="8.5" text-anchor="end" fill="#262626" stroke="#262626" stroke-width="0.15" >1000</text>
<line x1="36.50" y1="302.50" x2="38.50" y2="302.50" stroke="#3d3d3d" stroke-width="1" />
<text x="35.10" y="305.20" font-size="8.5" text-anchor="end" fill="#262626" stroke="#262626" stroke-width="0.15" >1500</text>
<line x1="36.50" y1="284.50" x2="38.50" y2="284.50" stroke="#3d3d3d" stroke-width="1" />
<text x="35.10" y="287.70" font-size="8.5" text-anchor="end" fill="#262626" stroke="#262626" stroke-width="0.15" >2000</text>
<line x1="36.50" y1="266.50" x2="38.50" y2="266.50" stroke="#3d3d3d" stroke-width="1" />
<text x="35.10" y="270.20" font-size="8.5" text-anchor="end" fill="#262626" stroke="#262626" stroke-width="0.15" >2500</text>
<line x1="71.50" y1="352.50" x2="71.50" y2="354.70" stroke="#6a6a6a" stroke-width="1" />
<text x="71.25" y="363.30" font-size="8.5" text-anchor="middle" fill="#262626" stroke="#262626" stroke-width="0.15" >0</text>
<line x1="126.50" y1="352.50" x2="126.50" y2="354.70" stroke="#6a6a6a" stroke-width="1" />
<text x="126.00" y="363.30" font-size="8.5" text-anchor="middle" fill="#262626" stroke="#262626" stroke-width="0.15" >1</text>
<text x="11.60" y="307.45" font-size="8.58" text-anchor="middle" fill="#262626" stroke="#262626" stroke-width="0.1" transform="rotate(-90 11.60 307.45)">cTnI, ng/mL</text>
<text x="69.30" y="268.40" font-size="5.6" text-anchor="start" fill="#262626" stroke="#262626" stroke-width="0.18" >Wilcoxon, P=0.00054</text>
<line x1="71.50" y1="299.30" x2="71.50" y2="322.50" stroke="#b3cce0" stroke-width="1" />
<line x1="71.50" y1="340.50" x2="71.50" y2="348.30" stroke="#b3cce0" stroke-width="1" />
<rect x="52.50" y="322.50" width="38.00" height="18.00" fill="none" stroke="#b3cce0" stroke-width="1"/>
<line x1="52.50" y1="333.50" x2="90.50" y2="333.50" stroke="#6a9bc8" stroke-width="1" />
<circle cx="63.0" cy="327.9" r="0.55" fill="#2a7bbf"/>
<circle cx="64.3" cy="330.9" r="0.6" fill="#2a7bbf"/>
<circle cx="80.1" cy="322.9" r="0.55" fill="#2a7bbf"/>
<circle cx="68.0" cy="332.1" r="0.55" fill="#2a7bbf"/>
<circle cx="79.1" cy="335.1" r="0.55" fill="#2a7bbf"/>
<circle cx="67.8" cy="327.4" r="0.7" fill="#2a7bbf"/>
<circle cx="67.4" cy="334.5" r="0.5" fill="#2a7bbf"/>
<circle cx="76.4" cy="345.2" r="0.5" fill="#2a7bbf"/>
<circle cx="80.3" cy="312.3" r="0.6" fill="#2a7bbf"/>
<circle cx="72.7" cy="346.6" r="0.7" fill="#2a7bbf"/>
<circle cx="68.5" cy="292.9" r="0.55" fill="#2a7bbf"/>
<circle cx="60.8" cy="347.5" r="0.7" fill="#2a7bbf"/>
<circle cx="68.1" cy="341.2" r="0.6" fill="#2a7bbf"/>
<circle cx="74.4" cy="320.8" r="0.6" fill="#2a7bbf"/>
<circle cx="71.2" cy="299.4" r="0.55" fill="#2a7bbf"/>
<circle cx="80.8" cy="334.0" r="0.6" fill="#2a7bbf"/>
<circle cx="63.3" cy="281.6" r="0.6" fill="#2a7bbf"/>
<circle cx="67.6" cy="340.0" r="0.7" fill="#2a7bbf"/>
<circle cx="65.8" cy="300.7" r="0.6" fill="#2a7bbf"/>
<circle cx="73.4" cy="325.3" r="0.7" fill="#2a7bbf"/>
<circle cx="61.4" cy="342.1" r="0.55" fill="#2a7bbf"/>
<circle cx="76.4" cy="304.4" r="0.5" fill="#2a7bbf"/>
<circle cx="79.2" cy="317.1" r="0.55" fill="#2a7bbf"/>
<circle cx="63.4" cy="335.3" r="0.6" fill="#2a7bbf"/>
<circle cx="77.9" cy="325.2" r="0.55" fill="#2a7bbf"/>
<circle cx="60.5" cy="276.8" r="0.6" fill="#2a7bbf"/>
<circle cx="76.4" cy="343.9" r="0.5" fill="#2a7bbf"/>
<circle cx="70.5" cy="322.2" r="0.7" fill="#2a7bbf"/>
<circle cx="67.7" cy="345.7" r="0.7" fill="#2a7bbf"/>
<circle cx="81.8" cy="298.8" r="0.5" fill="#2a7bbf"/>
<circle cx="64.7" cy="329.6" r="0.5" fill="#2a7bbf"/>
<circle cx="71.4" cy="347.3" r="0.55" fill="#2a7bbf"/>
<circle cx="75.6" cy="330.0" r="0.5" fill="#2a7bbf"/>
<circle cx="79.9" cy="347.0" r="0.5" fill="#2a7bbf"/>
<circle cx="62.9" cy="299.6" r="0.7" fill="#2a7bbf"/>
<circle cx="71.8" cy="277.7" r="0.5" fill="#2a7bbf"/>
<circle cx="75.3" cy="343.1" r="0.55" fill="#2a7bbf"/>
<circle cx="72.2" cy="327.5" r="0.5" fill="#2a7bbf"/>
<circle cx="78.7" cy="332.0" r="0.5" fill="#2a7bbf"/>
<circle cx="65.0" cy="337.9" r="0.55" fill="#2a7bbf"/>
<circle cx="66.3" cy="323.2" r="0.55" fill="#2a7bbf"/>
<circle cx="66.2" cy="347.9" r="0.5" fill="#2a7bbf"/>
<circle cx="61.3" cy="342.6" r="0.6" fill="#2a7bbf"/>
<circle cx="67.4" cy="340.5" r="0.5" fill="#2a7bbf"/>
<circle cx="72.2" cy="326.6" r="0.6" fill="#2a7bbf"/>
<circle cx="81.8" cy="325.0" r="0.6" fill="#2a7bbf"/>
<circle cx="67.3" cy="336.4" r="0.7" fill="#2a7bbf"/>
<circle cx="63.6" cy="336.9" r="0.7" fill="#2a7bbf"/>
<circle cx="77.9" cy="298.9" r="0.5" fill="#2a7bbf"/>
<circle cx="71.3" cy="341.3" r="0.6" fill="#2a7bbf"/>
<circle cx="76.3" cy="324.9" r="0.55" fill="#2a7bbf"/>
<circle cx="74.8" cy="309.0" r="0.5" fill="#2a7bbf"/>
<circle cx="77.5" cy="305.9" r="0.5" fill="#2a7bbf"/>
<circle cx="72.5" cy="336.2" r="0.7" fill="#2a7bbf"/>
<circle cx="67.2" cy="331.2" r="0.5" fill="#2a7bbf"/>
<circle cx="74.5" cy="334.1" r="0.7" fill="#2a7bbf"/>
<circle cx="73.3" cy="332.9" r="0.7" fill="#2a7bbf"/>
<circle cx="74.1" cy="341.5" r="0.7" fill="#2a7bbf"/>
<circle cx="61.7" cy="337.8" r="0.6" fill="#2a7bbf"/>
<circle cx="75.1" cy="328.4" r="0.6" fill="#2a7bbf"/>
<circle cx="77.8" cy="346.3" r="0.55" fill="#2a7bbf"/>
<circle cx="77.1" cy="288.8" r="0.6" fill="#2a7bbf"/>
<circle cx="70.7" cy="292.4" r="0.6" fill="#2a7bbf"/>
<circle cx="70.7" cy="332.3" r="0.55" fill="#2a7bbf"/>
<circle cx="61.7" cy="270.8" r="0.6" fill="#2a7bbf"/>
<circle cx="71.9" cy="332.3" r="0.6" fill="#2a7bbf"/>
<circle cx="64.1" cy="341.3" r="0.7" fill="#2a7bbf"/>
<circle cx="81.0" cy="343.1" r="0.5" fill="#2a7bbf"/>
<circle cx="68.2" cy="338.8" r="0.7" fill="#2a7bbf"/>
<circle cx="63.7" cy="344.8" r="0.6" fill="#2a7bbf"/>
<circle cx="68.3" cy="337.1" r="0.6" fill="#2a7bbf"/>
<circle cx="62.2" cy="334.8" r="0.7" fill="#2a7bbf"/>
<circle cx="70.1" cy="339.8" r="0.5" fill="#2a7bbf"/>
<circle cx="70.8" cy="334.9" r="0.55" fill="#2a7bbf"/>
<circle cx="63.6" cy="320.8" r="0.55" fill="#2a7bbf"/>
<circle cx="71.7" cy="337.4" r="0.55" fill="#2a7bbf"/>
<circle cx="71.8" cy="327.9" r="0.7" fill="#2a7bbf"/>
<circle cx="72.5" cy="340.9" r="0.5" fill="#2a7bbf"/>
<circle cx="61.6" cy="330.2" r="0.55" fill="#2a7bbf"/>
<circle cx="72.2" cy="339.3" r="0.6" fill="#2a7bbf"/>
<circle cx="66.1" cy="340.8" r="0.7" fill="#2a7bbf"/>
<circle cx="74.2" cy="345.7" r="0.5" fill="#2a7bbf"/>
<circle cx="69.6" cy="342.4" r="0.6" fill="#2a7bbf"/>
<circle cx="68.4" cy="328.2" r="0.5" fill="#2a7bbf"/>
<circle cx="68.5" cy="323.8" r="0.5" fill="#2a7bbf"/>
<circle cx="66.8" cy="324.0" r="0.7" fill="#2a7bbf"/>
<circle cx="73.6" cy="335.4" r="0.6" fill="#2a7bbf"/>
<circle cx="68.7" cy="337.8" r="0.55" fill="#2a7bbf"/>
<circle cx="64.5" cy="288.6" r="0.6" fill="#2a7bbf"/>
<circle cx="64.7" cy="346.5" r="0.5" fill="#2a7bbf"/>
<circle cx="70.1" cy="346.0" r="0.7" fill="#2a7bbf"/>
<circle cx="71.2" cy="332.2" r="0.5" fill="#2a7bbf"/>
<circle cx="72.6" cy="345.2" r="0.7" fill="#2a7bbf"/>
<circle cx="69.9" cy="324.5" r="0.7" fill="#2a7bbf"/>
<circle cx="61.7" cy="343.2" r="0.7" fill="#2a7bbf"/>
<circle cx="71.5" cy="333.6" r="0.5" fill="#2a7bbf"/>
<circle cx="76.5" cy="325.9" r="0.7" fill="#2a7bbf"/>
<circle cx="80.6" cy="331.5" r="0.6" fill="#2a7bbf"/>
<circle cx="77.1" cy="331.0" r="0.7" fill="#2a7bbf"/>
<circle cx="65.1" cy="344.9" r="0.5" fill="#2a7bbf"/>
<circle cx="60.6" cy="330.2" r="0.7" fill="#2a7bbf"/>
<circle cx="76.8" cy="345.8" r="0.7" fill="#2a7bbf"/>
<circle cx="75.2" cy="346.8" r="0.6" fill="#2a7bbf"/>
<circle cx="61.5" cy="333.8" r="0.7" fill="#2a7bbf"/>
<circle cx="63.4" cy="305.8" r="0.7" fill="#2a7bbf"/>
<circle cx="79.4" cy="310.5" r="0.55" fill="#2a7bbf"/>
<circle cx="64.5" cy="338.8" r="0.5" fill="#2a7bbf"/>
<circle cx="72.1" cy="342.9" r="0.6" fill="#2a7bbf"/>
<circle cx="68.7" cy="345.8" r="0.6" fill="#2a7bbf"/>
<circle cx="71.5" cy="330.9" r="0.7" fill="#2a7bbf"/>
<circle cx="67.0" cy="325.4" r="0.55" fill="#2a7bbf"/>
<circle cx="77.9" cy="301.6" r="0.6" fill="#2a7bbf"/>
<circle cx="63.2" cy="339.3" r="0.55" fill="#2a7bbf"/>
<circle cx="68.5" cy="331.7" r="0.7" fill="#2a7bbf"/>
<circle cx="75.8" cy="326.5" r="0.55" fill="#2a7bbf"/>
<circle cx="77.9" cy="337.4" r="0.55" fill="#2a7bbf"/>
<circle cx="75.8" cy="334.6" r="0.5" fill="#2a7bbf"/>
<circle cx="60.5" cy="323.3" r="0.5" fill="#2a7bbf"/>
<circle cx="72.7" cy="336.1" r="0.6" fill="#2a7bbf"/>
<circle cx="65.1" cy="347.3" r="0.7" fill="#2a7bbf"/>
<circle cx="75.9" cy="339.7" r="0.7" fill="#2a7bbf"/>
<circle cx="76.2" cy="336.2" r="0.55" fill="#2a7bbf"/>
<circle cx="61.6" cy="299.6" r="0.7" fill="#2a7bbf"/>
<circle cx="63.0" cy="303.2" r="0.55" fill="#2a7bbf"/>
<circle cx="61.9" cy="302.4" r="0.7" fill="#2a7bbf"/>
<circle cx="80.5" cy="343.1" r="0.55" fill="#2a7bbf"/>
<circle cx="75.1" cy="333.4" r="0.6" fill="#2a7bbf"/>
<circle cx="72.0" cy="313.2" r="0.55" fill="#2a7bbf"/>
<circle cx="80.4" cy="344.1" r="0.55" fill="#2a7bbf"/>
<circle cx="70.5" cy="332.6" r="0.55" fill="#2a7bbf"/>
<circle cx="81.1" cy="316.3" r="0.7" fill="#2a7bbf"/>
<circle cx="78.6" cy="341.8" r="0.7" fill="#2a7bbf"/>
<circle cx="63.7" cy="325.2" r="0.5" fill="#2a7bbf"/>
<circle cx="63.2" cy="288.8" r="0.55" fill="#2a7bbf"/>
<circle cx="66.7" cy="307.1" r="0.55" fill="#2a7bbf"/>
<circle cx="77.8" cy="300.2" r="0.55" fill="#2a7bbf"/>
<circle cx="66.0" cy="339.2" r="0.55" fill="#2a7bbf"/>
<circle cx="77.8" cy="343.9" r="0.55" fill="#2a7bbf"/>
<circle cx="61.0" cy="336.6" r="0.7" fill="#2a7bbf"/>
<circle cx="66.7" cy="343.8" r="0.5" fill="#2a7bbf"/>
<line x1="126.50" y1="270.30" x2="126.50" y2="304.50" stroke="#f0e6b6" stroke-width="1" />
<line x1="126.50" y1="336.50" x2="126.50" y2="348.00" stroke="#f0e6b6" stroke-width="1" />
<rect x="106.50" y="304.50" width="39.00" height="32.00" fill="none" stroke="#f0e6b6" stroke-width="1"/>
<line x1="106.50" y1="324.50" x2="145.50" y2="324.50" stroke="#e5cc6a" stroke-width="1" />
<circle cx="118.3" cy="338.6" r="0.55" fill="#e3b51c"/>
<circle cx="129.9" cy="327.8" r="0.5" fill="#e3b51c"/>
<circle cx="122.8" cy="344.8" r="0.55" fill="#e3b51c"/>
<circle cx="135.6" cy="270.0" r="0.5" fill="#e3b51c"/>
<circle cx="122.7" cy="334.9" r="0.7" fill="#e3b51c"/>
<circle cx="135.0" cy="287.7" r="0.55" fill="#e3b51c"/>
<circle cx="134.0" cy="325.0" r="0.5" fill="#e3b51c"/>
<circle cx="125.4" cy="338.5" r="0.55" fill="#e3b51c"/>
<circle cx="121.6" cy="318.0" r="0.5" fill="#e3b51c"/>
<circle cx="122.6" cy="271.2" r="0.55" fill="#e3b51c"/>
<circle cx="116.1" cy="311.9" r="0.6" fill="#e3b51c"/>
<circle cx="125.6" cy="331.9" r="0.6" fill="#e3b51c"/>
<circle cx="119.0" cy="305.1" r="0.6" fill="#e3b51c"/>
<circle cx="130.9" cy="297.9" r="0.7" fill="#e3b51c"/>
<circle cx="127.1" cy="342.2" r="0.55" fill="#e3b51c"/>
<circle cx="125.2" cy="316.7" r="0.5" fill="#e3b51c"/>
<circle cx="127.7" cy="344.7" r="0.7" fill="#e3b51c"/>
<circle cx="117.9" cy="312.6" r="0.6" fill="#e3b51c"/>
<circle cx="131.0" cy="343.0" r="0.55" fill="#e3b51c"/>
<circle cx="129.6" cy="331.4" r="0.5" fill="#e3b51c"/>
<circle cx="133.5" cy="332.8" r="0.7" fill="#e3b51c"/>
<circle cx="120.8" cy="334.3" r="0.5" fill="#e3b51c"/>
<circle cx="117.6" cy="289.1" r="0.7" fill="#e3b51c"/>
<circle cx="126.9" cy="336.0" r="0.6" fill="#e3b51c"/>
<circle cx="118.6" cy="325.8" r="0.5" fill="#e3b51c"/>
<circle cx="123.1" cy="323.7" r="0.55" fill="#e3b51c"/>
<circle cx="127.2" cy="335.3" r="0.55" fill="#e3b51c"/>
<circle cx="131.0" cy="285.0" r="0.55" fill="#e3b51c"/>
<circle cx="115.4" cy="287.5" r="0.5" fill="#e3b51c"/>
<circle cx="132.4" cy="324.8" r="0.55" fill="#e3b51c"/>
<circle cx="120.1" cy="309.3" r="0.55" fill="#e3b51c"/>
<circle cx="120.8" cy="340.1" r="0.5" fill="#e3b51c"/>
<circle cx="128.7" cy="328.1" r="0.5" fill="#e3b51c"/>
<circle cx="134.6" cy="334.9" r="0.5" fill="#e3b51c"/>
<circle cx="119.8" cy="311.3" r="0.55" fill="#e3b51c"/>
<circle cx="132.2" cy="316.7" r="0.5" fill="#e3b51c"/>
<circle cx="116.6" cy="296.4" r="0.6" fill="#e3b51c"/>
<circle cx="116.0" cy="270.2" r="0.55" fill="#e3b51c"/>
<circle cx="122.5" cy="297.2" r="0.7" fill="#e3b51c"/>
<circle cx="119.1" cy="317.0" r="0.6" fill="#e3b51c"/>
<circle cx="124.1" cy="279.6" r="0.7" fill="#e3b51c"/>
<circle cx="132.3" cy="345.1" r="0.55" fill="#e3b51c"/>
<circle cx="129.9" cy="305.8" r="0.55" fill="#e3b51c"/>
<circle cx="131.9" cy="299.2" r="0.55" fill="#e3b51c"/>
<circle cx="119.9" cy="338.6" r="0.6" fill="#e3b51c"/>
<circle cx="116.5" cy="307.8" r="0.5" fill="#e3b51c"/>
<circle cx="125.6" cy="299.9" r="0.7" fill="#e3b51c"/>
<circle cx="122.3" cy="322.2" r="0.5" fill="#e3b51c"/>
<circle cx="129.0" cy="304.3" r="0.55" fill="#e3b51c"/>
<circle cx="116.2" cy="290.8" r="0.6" fill="#e3b51c"/>
<circle cx="117.1" cy="300.4" r="0.6" fill="#e3b51c"/>
<circle cx="132.6" cy="317.7" r="0.7" fill="#e3b51c"/>
<circle cx="131.4" cy="310.6" r="0.55" fill="#e3b51c"/>
<circle cx="130.2" cy="336.5" r="0.6" fill="#e3b51c"/>
<circle cx="131.4" cy="285.5" r="0.55" fill="#e3b51c"/>
<circle cx="133.1" cy="327.5" r="0.6" fill="#e3b51c"/>
<circle cx="128.0" cy="304.7" r="0.5" fill="#e3b51c"/>
<circle cx="132.2" cy="343.4" r="0.6" fill="#e3b51c"/>
<circle cx="133.6" cy="304.4" r="0.55" fill="#e3b51c"/>
<circle cx="125.1" cy="338.6" r="0.55" fill="#e3b51c"/>
<circle cx="127.6" cy="289.3" r="0.5" fill="#e3b51c"/>
<circle cx="132.2" cy="329.7" r="0.6" fill="#e3b51c"/>
<circle cx="123.9" cy="295.9" r="0.5" fill="#e3b51c"/>
<circle cx="129.8" cy="337.7" r="0.6" fill="#e3b51c"/>
<circle cx="134.9" cy="311.3" r="0.7" fill="#e3b51c"/>
<circle cx="115.1" cy="299.7" r="0.7" fill="#e3b51c"/>
<circle cx="135.9" cy="316.0" r="0.7" fill="#e3b51c"/>
<circle cx="128.3" cy="328.4" r="0.7" fill="#e3b51c"/>
<circle cx="127.0" cy="340.4" r="0.5" fill="#e3b51c"/>
<circle cx="133.5" cy="331.7" r="0.5" fill="#e3b51c"/>
<circle cx="117.0" cy="334.8" r="0.6" fill="#e3b51c"/>
<circle cx="134.5" cy="339.0" r="0.7" fill="#e3b51c"/>
<circle cx="132.7" cy="311.5" r="0.5" fill="#e3b51c"/>
<circle cx="128.8" cy="338.1" r="0.7" fill="#e3b51c"/>
<circle cx="119.1" cy="296.2" r="0.6" fill="#e3b51c"/>
<circle cx="118.4" cy="332.8" r="0.55" fill="#e3b51c"/>
<circle cx="134.5" cy="337.8" r="0.7" fill="#e3b51c"/>
<circle cx="122.0" cy="334.0" r="0.55" fill="#e3b51c"/>
<circle cx="136.3" cy="292.1" r="0.7" fill="#e3b51c"/>
<circle cx="115.1" cy="322.1" r="0.55" fill="#e3b51c"/>
<circle cx="120.4" cy="341.9" r="0.6" fill="#e3b51c"/>
<circle cx="129.9" cy="305.6" r="0.7" fill="#e3b51c"/>
<circle cx="131.5" cy="340.8" r="0.6" fill="#e3b51c"/>
<circle cx="116.7" cy="311.1" r="0.6" fill="#e3b51c"/>
<circle cx="136.0" cy="327.1" r="0.6" fill="#e3b51c"/>
<line x1="387.50" y1="262.80" x2="387.50" y2="353.00" stroke="#3d3d3d" stroke-width="1" />
<line x1="387.00" y1="352.50" x2="507.90" y2="352.50" stroke="#3d3d3d" stroke-width="1" />
<line x1="385.50" y1="351.50" x2="387.50" y2="351.50" stroke="#3d3d3d" stroke-width="1" />
<text x="384.10" y="354.90" font-size="8.5" text-anchor="end" fill="#262626" stroke="#262626" stroke-width="0.15" >0</text>
<line x1="385.50" y1="334.50" x2="387.50" y2="334.50" stroke="#3d3d3d" stroke-width="1" />
<text x="384.10" y="337.90" font-size="8.5" text-anchor="end" fill="#262626" stroke="#262626" stroke-width="0.15" >1000</text>
<line x1="385.50" y1="317.50" x2="387.50" y2="317.50" stroke="#3d3d3d" stroke-width="1" />
<text x="384.10" y="320.70" font-size="8.5" text-anchor="end" fill="#262626" stroke="#262626" stroke-width="0.15" >2000</text>
<line x1="385.50" y1="300.50" x2="387.50" y2="300.50" stroke="#3d3d3d" stroke-width="1" />
<text x="384.10" y="303.50" font-size="8.5" text-anchor="end" fill="#262626" stroke="#262626" stroke-width="0.15" >3000</text>
<line x1="385.50" y1="283.50" x2="387.50" y2="283.50" stroke="#3d3d3d" stroke-width="1" />
<text x="384.10" y="286.50" font-size="8.5" text-anchor="end" fill="#262626" stroke="#262626" stroke-width="0.15" >4000</text>
<line x1="385.50" y1="266.50" x2="387.50" y2="266.50" stroke="#3d3d3d" stroke-width="1" />
<text x="384.10" y="269.40" font-size="8.5" text-anchor="end" fill="#262626" stroke="#262626" stroke-width="0.15" >5000</text>
<line x1="419.50" y1="352.50" x2="419.50" y2="354.70" stroke="#6a6a6a" stroke-width="1" />
<text x="419.85" y="363.30" font-size="8.5" text-anchor="middle" fill="#262626" stroke="#262626" stroke-width="0.15" >0</text>
<line x1="474.50" y1="352.50" x2="474.50" y2="354.70" stroke="#6a6a6a" stroke-width="1" />
<text x="474.75" y="363.30" font-size="8.5" text-anchor="middle" fill="#262626" stroke="#262626" stroke-width="0.15" >1</text>
<text x="359.20" y="306.95" font-size="8.22" text-anchor="middle" fill="#262626" stroke="#262626" stroke-width="0.1" transform="rotate(-90 359.20 306.95)">NT-proBNP, pg/mL</text>
<text x="426.00" y="263.10" font-size="5.6" text-anchor="start" fill="#262626" stroke="#262626" stroke-width="0.18" >Wilcoxon, P=0.018</text>
<line x1="419.50" y1="290.00" x2="419.50" y2="318.50" stroke="#b3cce0" stroke-width="1" />
<line x1="419.50" y1="341.50" x2="419.50" y2="348.50" stroke="#b3cce0" stroke-width="1" />
<rect x="400.50" y="318.50" width="39.00" height="23.00" fill="none" stroke="#b3cce0" stroke-width="1"/>
<line x1="400.50" y1="335.50" x2="439.50" y2="335.50" stroke="#6a9bc8" stroke-width="1" />
<circle cx="424.4" cy="340.3" r="0.7" fill="#2a7bbf"/>
<circle cx="426.6" cy="287.3" r="0.5" fill="#2a7bbf"/>
<circle cx="419.8" cy="297.4" r="0.6" fill="#2a7bbf"/>
<circle cx="409.3" cy="322.3" r="0.5" fill="#2a7bbf"/>
<circle cx="418.7" cy="331.5" r="0.55" fill="#2a7bbf"/>
<circle cx="425.3" cy="319.7" r="0.5" fill="#2a7bbf"/>
<circle cx="419.5" cy="283.8" r="0.5" fill="#2a7bbf"/>
<circle cx="428.4" cy="282.1" r="0.55" fill="#2a7bbf"/>
<circle cx="429.0" cy="342.9" r="0.5" fill="#2a7bbf"/>
<circle cx="412.7" cy="266.8" r="0.6" fill="#2a7bbf"/>
<circle cx="414.2" cy="326.7" r="0.5" fill="#2a7bbf"/>
<circle cx="430.4" cy="337.4" r="0.5" fill="#2a7bbf"/>
<circle cx="423.7" cy="312.0" r="0.7" fill="#2a7bbf"/>
<circle cx="430.3" cy="335.6" r="0.6" fill="#2a7bbf"/>
<circle cx="415.0" cy="322.3" r="0.55" fill="#2a7bbf"/>
<circle cx="419.8" cy="308.5" r="0.5" fill="#2a7bbf"/>
<circle cx="416.5" cy="313.3" r="0.55" fill="#2a7bbf"/>
<circle cx="426.6" cy="342.7" r="0.5" fill="#2a7bbf"/>
<circle cx="425.1" cy="343.5" r="0.55" fill="#2a7bbf"/>
<circle cx="428.8" cy="323.0" r="0.6" fill="#2a7bbf"/>
<circle cx="425.9" cy="275.8" r="0.6" fill="#2a7bbf"/>
<circle cx="413.0" cy="279.0" r="0.6" fill="#2a7bbf"/>
<circle cx="419.3" cy="300.3" r="0.6" fill="#2a7bbf"/>
<circle cx="417.7" cy="290.7" r="0.6" fill="#2a7bbf"/>
<circle cx="415.9" cy="338.9" r="0.7" fill="#2a7bbf"/>
<circle cx="413.3" cy="341.3" r="0.7" fill="#2a7bbf"/>
<circle cx="417.8" cy="335.3" r="0.55" fill="#2a7bbf"/>
<circle cx="415.8" cy="315.1" r="0.55" fill="#2a7bbf"/>
<circle cx="420.6" cy="341.0" r="0.7" fill="#2a7bbf"/>
<circle cx="414.9" cy="318.0" r="0.6" fill="#2a7bbf"/>
<circle cx="417.6" cy="320.5" r="0.6" fill="#2a7bbf"/>
<circle cx="411.5" cy="306.1" r="0.7" fill="#2a7bbf"/>
<circle cx="409.8" cy="315.9" r="0.6" fill="#2a7bbf"/>
<circle cx="429.5" cy="339.1" r="0.6" fill="#2a7bbf"/>
<circle cx="428.3" cy="272.7" r="0.5" fill="#2a7bbf"/>
<circle cx="423.8" cy="317.9" r="0.7" fill="#2a7bbf"/>
<circle cx="424.5" cy="308.4" r="0.6" fill="#2a7bbf"/>
<circle cx="412.7" cy="343.4" r="0.5" fill="#2a7bbf"/>
<circle cx="417.5" cy="315.5" r="0.6" fill="#2a7bbf"/>
<circle cx="419.8" cy="337.9" r="0.6" fill="#2a7bbf"/>
<circle cx="412.9" cy="339.2" r="0.55" fill="#2a7bbf"/>
<circle cx="420.3" cy="333.2" r="0.6" fill="#2a7bbf"/>
<circle cx="416.3" cy="344.1" r="0.5" fill="#2a7bbf"/>
<circle cx="410.3" cy="292.0" r="0.5" fill="#2a7bbf"/>
<circle cx="423.5" cy="306.1" r="0.7" fill="#2a7bbf"/>
<circle cx="421.5" cy="337.8" r="0.6" fill="#2a7bbf"/>
<circle cx="423.8" cy="314.3" r="0.55" fill="#2a7bbf"/>
<circle cx="423.6" cy="343.7" r="0.55" fill="#2a7bbf"/>
<circle cx="428.6" cy="335.4" r="0.5" fill="#2a7bbf"/>
<circle cx="426.9" cy="318.8" r="0.7" fill="#2a7bbf"/>
<circle cx="411.8" cy="302.3" r="0.7" fill="#2a7bbf"/>
<circle cx="414.9" cy="327.7" r="0.5" fill="#2a7bbf"/>
<circle cx="422.2" cy="315.9" r="0.6" fill="#2a7bbf"/>
<circle cx="428.7" cy="328.0" r="0.6" fill="#2a7bbf"/>
<circle cx="423.7" cy="345.0" r="0.5" fill="#2a7bbf"/>
<circle cx="424.2" cy="338.9" r="0.5" fill="#2a7bbf"/>
<circle cx="429.8" cy="344.3" r="0.55" fill="#2a7bbf"/>
<circle cx="422.7" cy="348.3" r="0.55" fill="#2a7bbf"/>
<circle cx="419.9" cy="336.7" r="0.7" fill="#2a7bbf"/>
<circle cx="422.0" cy="329.2" r="0.5" fill="#2a7bbf"/>
<circle cx="427.0" cy="346.5" r="0.5" fill="#2a7bbf"/>
<circle cx="415.3" cy="335.8" r="0.6" fill="#2a7bbf"/>
<circle cx="420.5" cy="278.1" r="0.55" fill="#2a7bbf"/>
<circle cx="426.3" cy="342.3" r="0.55" fill="#2a7bbf"/>
<circle cx="430.3" cy="340.9" r="0.5" fill="#2a7bbf"/>
<circle cx="412.7" cy="342.2" r="0.6" fill="#2a7bbf"/>
<circle cx="410.3" cy="337.3" r="0.6" fill="#2a7bbf"/>
<circle cx="421.7" cy="320.0" r="0.7" fill="#2a7bbf"/>
<circle cx="429.8" cy="338.2" r="0.7" fill="#2a7bbf"/>
<circle cx="427.9" cy="342.2" r="0.5" fill="#2a7bbf"/>
<circle cx="430.0" cy="312.1" r="0.6" fill="#2a7bbf"/>
<circle cx="414.4" cy="324.6" r="0.7" fill="#2a7bbf"/>
<circle cx="418.3" cy="330.2" r="0.7" fill="#2a7bbf"/>
<circle cx="422.4" cy="342.9" r="0.5" fill="#2a7bbf"/>
<circle cx="415.1" cy="337.8" r="0.55" fill="#2a7bbf"/>
<circle cx="428.6" cy="345.4" r="0.5" fill="#2a7bbf"/>
<circle cx="413.2" cy="336.9" r="0.55" fill="#2a7bbf"/>
<circle cx="413.3" cy="315.7" r="0.6" fill="#2a7bbf"/>
<circle cx="429.7" cy="318.5" r="0.5" fill="#2a7bbf"/>
<circle cx="413.4" cy="345.8" r="0.5" fill="#2a7bbf"/>
<circle cx="423.0" cy="308.2" r="0.6" fill="#2a7bbf"/>
<circle cx="422.7" cy="331.4" r="0.6" fill="#2a7bbf"/>
<circle cx="415.6" cy="268.9" r="0.5" fill="#2a7bbf"/>
<circle cx="424.1" cy="319.0" r="0.7" fill="#2a7bbf"/>
<circle cx="426.5" cy="298.9" r="0.7" fill="#2a7bbf"/>
<circle cx="416.4" cy="315.8" r="0.55" fill="#2a7bbf"/>
<circle cx="428.3" cy="338.8" r="0.7" fill="#2a7bbf"/>
<circle cx="428.9" cy="269.2" r="0.6" fill="#2a7bbf"/>
<circle cx="426.9" cy="336.0" r="0.55" fill="#2a7bbf"/>
<circle cx="420.5" cy="306.3" r="0.6" fill="#2a7bbf"/>
<circle cx="413.5" cy="334.9" r="0.6" fill="#2a7bbf"/>
<circle cx="429.5" cy="324.7" r="0.55" fill="#2a7bbf"/>
<circle cx="429.6" cy="321.0" r="0.7" fill="#2a7bbf"/>
<circle cx="424.8" cy="315.6" r="0.55" fill="#2a7bbf"/>
<circle cx="427.3" cy="311.2" r="0.55" fill="#2a7bbf"/>
<circle cx="411.3" cy="344.0" r="0.7" fill="#2a7bbf"/>
<circle cx="426.7" cy="346.9" r="0.5" fill="#2a7bbf"/>
<circle cx="409.8" cy="336.3" r="0.5" fill="#2a7bbf"/>
<circle cx="416.3" cy="305.2" r="0.7" fill="#2a7bbf"/>
<circle cx="422.9" cy="335.8" r="0.55" fill="#2a7bbf"/>
<circle cx="413.4" cy="348.0" r="0.6" fill="#2a7bbf"/>
<circle cx="411.2" cy="338.4" r="0.55" fill="#2a7bbf"/>
<circle cx="418.5" cy="284.9" r="0.7" fill="#2a7bbf"/>
<circle cx="421.4" cy="317.0" r="0.5" fill="#2a7bbf"/>
<circle cx="412.6" cy="304.7" r="0.55" fill="#2a7bbf"/>
<circle cx="419.2" cy="320.6" r="0.7" fill="#2a7bbf"/>
<circle cx="411.5" cy="328.2" r="0.7" fill="#2a7bbf"/>
<circle cx="410.2" cy="328.6" r="0.55" fill="#2a7bbf"/>
<circle cx="428.4" cy="312.6" r="0.5" fill="#2a7bbf"/>
<circle cx="426.2" cy="338.1" r="0.55" fill="#2a7bbf"/>
<circle cx="425.2" cy="326.2" r="0.5" fill="#2a7bbf"/>
<circle cx="428.8" cy="341.8" r="0.55" fill="#2a7bbf"/>
<circle cx="409.7" cy="312.3" r="0.5" fill="#2a7bbf"/>
<circle cx="429.5" cy="337.9" r="0.55" fill="#2a7bbf"/>
<circle cx="409.8" cy="315.5" r="0.7" fill="#2a7bbf"/>
<circle cx="412.2" cy="341.4" r="0.5" fill="#2a7bbf"/>
<circle cx="429.9" cy="335.9" r="0.5" fill="#2a7bbf"/>
<circle cx="426.6" cy="342.9" r="0.55" fill="#2a7bbf"/>
<circle cx="416.0" cy="327.5" r="0.7" fill="#2a7bbf"/>
<circle cx="408.9" cy="294.9" r="0.5" fill="#2a7bbf"/>
<circle cx="426.9" cy="331.6" r="0.5" fill="#2a7bbf"/>
<circle cx="423.4" cy="321.3" r="0.6" fill="#2a7bbf"/>
<circle cx="423.6" cy="336.5" r="0.55" fill="#2a7bbf"/>
<circle cx="427.1" cy="347.0" r="0.7" fill="#2a7bbf"/>
<circle cx="424.4" cy="342.5" r="0.55" fill="#2a7bbf"/>
<circle cx="430.5" cy="323.7" r="0.5" fill="#2a7bbf"/>
<circle cx="416.6" cy="332.2" r="0.5" fill="#2a7bbf"/>
<circle cx="414.1" cy="345.1" r="0.5" fill="#2a7bbf"/>
<circle cx="414.9" cy="345.1" r="0.6" fill="#2a7bbf"/>
<circle cx="412.1" cy="316.9" r="0.6" fill="#2a7bbf"/>
<circle cx="409.0" cy="316.2" r="0.5" fill="#2a7bbf"/>
<circle cx="423.9" cy="346.3" r="0.55" fill="#2a7bbf"/>
<circle cx="418.9" cy="334.0" r="0.7" fill="#2a7bbf"/>
<circle cx="421.5" cy="292.2" r="0.55" fill="#2a7bbf"/>
<circle cx="425.0" cy="294.9" r="0.5" fill="#2a7bbf"/>
<circle cx="427.3" cy="296.2" r="0.5" fill="#2a7bbf"/>
<circle cx="411.8" cy="323.8" r="0.7" fill="#2a7bbf"/>
<circle cx="410.1" cy="312.5" r="0.6" fill="#2a7bbf"/>
<circle cx="424.4" cy="336.9" r="0.6" fill="#2a7bbf"/>
<circle cx="427.5" cy="314.0" r="0.5" fill="#2a7bbf"/>
<circle cx="410.9" cy="339.8" r="0.7" fill="#2a7bbf"/>
<circle cx="429.7" cy="343.4" r="0.7" fill="#2a7bbf"/>
<circle cx="427.2" cy="316.9" r="0.6" fill="#2a7bbf"/>
<circle cx="414.4" cy="341.1" r="0.7" fill="#2a7bbf"/>
<circle cx="416.4" cy="332.8" r="0.6" fill="#2a7bbf"/>
<circle cx="416.1" cy="293.3" r="0.55" fill="#2a7bbf"/>
<circle cx="426.3" cy="300.5" r="0.55" fill="#2a7bbf"/>
<circle cx="427.0" cy="344.7" r="0.6" fill="#2a7bbf"/>
<circle cx="416.3" cy="337.3" r="0.5" fill="#2a7bbf"/>
<circle cx="430.1" cy="332.9" r="0.55" fill="#2a7bbf"/>
<circle cx="410.0" cy="342.4" r="0.55" fill="#2a7bbf"/>
<circle cx="417.8" cy="287.3" r="0.5" fill="#2a7bbf"/>
<circle cx="413.7" cy="325.3" r="0.5" fill="#2a7bbf"/>
<circle cx="418.3" cy="320.7" r="0.5" fill="#2a7bbf"/>
<circle cx="412.7" cy="269.5" r="0.7" fill="#2a7bbf"/>
<line x1="474.50" y1="268.70" x2="474.50" y2="314.50" stroke="#f0e6b6" stroke-width="1" />
<line x1="474.50" y1="341.50" x2="474.50" y2="348.50" stroke="#f0e6b6" stroke-width="1" />
<rect x="455.50" y="314.50" width="39.00" height="27.00" fill="none" stroke="#f0e6b6" stroke-width="1"/>
<line x1="455.50" y1="332.50" x2="494.50" y2="332.50" stroke="#e5cc6a" stroke-width="1" />
<circle cx="467.4" cy="323.9" r="0.6" fill="#e3b51c"/>
<circle cx="469.2" cy="313.5" r="0.6" fill="#e3b51c"/>
<circle cx="465.8" cy="273.2" r="0.55" fill="#e3b51c"/>
<circle cx="477.3" cy="321.9" r="0.55" fill="#e3b51c"/>
<circle cx="476.9" cy="320.8" r="0.7" fill="#e3b51c"/>
<circle cx="465.2" cy="339.7" r="0.5" fill="#e3b51c"/>
<circle cx="465.4" cy="329.6" r="0.5" fill="#e3b51c"/>
<circle cx="466.2" cy="343.9" r="0.7" fill="#e3b51c"/>
<circle cx="475.0" cy="321.4" r="0.6" fill="#e3b51c"/>
<circle cx="473.7" cy="285.6" r="0.5" fill="#e3b51c"/>
<circle cx="472.4" cy="341.5" r="0.55" fill="#e3b51c"/>
<circle cx="479.8" cy="334.3" r="0.5" fill="#e3b51c"/>
<circle cx="473.9" cy="296.8" r="0.6" fill="#e3b51c"/>
<circle cx="464.4" cy="301.5" r="0.55" fill="#e3b51c"/>
<circle cx="468.4" cy="344.7" r="0.6" fill="#e3b51c"/>
<circle cx="469.9" cy="319.8" r="0.5" fill="#e3b51c"/>
<circle cx="465.4" cy="299.4" r="0.5" fill="#e3b51c"/>
<circle cx="478.2" cy="343.5" r="0.6" fill="#e3b51c"/>
<circle cx="467.7" cy="320.5" r="0.55" fill="#e3b51c"/>
<circle cx="482.1" cy="332.9" r="0.5" fill="#e3b51c"/>
<circle cx="478.1" cy="336.6" r="0.55" fill="#e3b51c"/>
<circle cx="470.3" cy="345.8" r="0.6" fill="#e3b51c"/>
<circle cx="466.6" cy="298.2" r="0.6" fill="#e3b51c"/>
<circle cx="479.6" cy="337.4" r="0.55" fill="#e3b51c"/>
<circle cx="480.0" cy="337.2" r="0.6" fill="#e3b51c"/>
<circle cx="475.3" cy="337.3" r="0.5" fill="#e3b51c"/>
<circle cx="483.7" cy="294.8" r="0.55" fill="#e3b51c"/>
<circle cx="472.1" cy="340.4" r="0.5" fill="#e3b51c"/>
<circle cx="468.0" cy="342.2" r="0.55" fill="#e3b51c"/>
<circle cx="482.5" cy="312.2" r="0.55" fill="#e3b51c"/>
<circle cx="474.1" cy="321.9" r="0.5" fill="#e3b51c"/>
<circle cx="478.3" cy="346.1" r="0.6" fill="#e3b51c"/>
<circle cx="464.4" cy="342.0" r="0.7" fill="#e3b51c"/>
<circle cx="466.2" cy="332.7" r="0.7" fill="#e3b51c"/>
<circle cx="466.4" cy="345.0" r="0.7" fill="#e3b51c"/>
<circle cx="483.8" cy="285.1" r="0.7" fill="#e3b51c"/>
<circle cx="466.4" cy="334.5" r="0.5" fill="#e3b51c"/>
<circle cx="473.5" cy="341.1" r="0.55" fill="#e3b51c"/>
<circle cx="476.0" cy="281.9" r="0.5" fill="#e3b51c"/>
<circle cx="474.4" cy="331.5" r="0.55" fill="#e3b51c"/>
<circle cx="482.9" cy="327.6" r="0.7" fill="#e3b51c"/>
<circle cx="484.5" cy="344.6" r="0.5" fill="#e3b51c"/>
<circle cx="467.5" cy="341.9" r="0.6" fill="#e3b51c"/>
<circle cx="465.6" cy="342.4" r="0.6" fill="#e3b51c"/>
<circle cx="484.5" cy="333.4" r="0.55" fill="#e3b51c"/>
<circle cx="473.7" cy="345.5" r="0.6" fill="#e3b51c"/>
<circle cx="469.9" cy="344.9" r="0.6" fill="#e3b51c"/>
<circle cx="479.2" cy="345.6" r="0.7" fill="#e3b51c"/>
<circle cx="467.7" cy="332.9" r="0.5" fill="#e3b51c"/>
<circle cx="481.6" cy="322.9" r="0.5" fill="#e3b51c"/>
<circle cx="478.9" cy="321.7" r="0.5" fill="#e3b51c"/>
<circle cx="468.9" cy="329.5" r="0.7" fill="#e3b51c"/>
<circle cx="466.8" cy="320.2" r="0.6" fill="#e3b51c"/>
<circle cx="481.4" cy="343.8" r="0.6" fill="#e3b51c"/>
<circle cx="482.6" cy="314.7" r="0.6" fill="#e3b51c"/>
<circle cx="478.1" cy="320.8" r="0.55" fill="#e3b51c"/>
<circle cx="473.8" cy="347.5" r="0.5" fill="#e3b51c"/>
<circle cx="482.4" cy="334.1" r="0.6" fill="#e3b51c"/>
<circle cx="466.9" cy="334.5" r="0.55" fill="#e3b51c"/>
<circle cx="470.7" cy="339.6" r="0.55" fill="#e3b51c"/>
<circle cx="472.6" cy="281.2" r="0.55" fill="#e3b51c"/>
<circle cx="484.6" cy="347.7" r="0.55" fill="#e3b51c"/>
<circle cx="472.0" cy="345.7" r="0.7" fill="#e3b51c"/>
<circle cx="468.4" cy="319.6" r="0.55" fill="#e3b51c"/>
<circle cx="474.1" cy="342.8" r="0.6" fill="#e3b51c"/>
<circle cx="473.8" cy="268.0" r="0.55" fill="#e3b51c"/>
<circle cx="480.4" cy="268.6" r="0.5" fill="#e3b51c"/>
<circle cx="471.3" cy="335.7" r="0.5" fill="#e3b51c"/>
<circle cx="480.7" cy="327.2" r="0.55" fill="#e3b51c"/>
<circle cx="463.8" cy="302.2" r="0.6" fill="#e3b51c"/>
<circle cx="474.2" cy="324.4" r="0.7" fill="#e3b51c"/>
<circle cx="469.1" cy="344.0" r="0.5" fill="#e3b51c"/>
<circle cx="472.9" cy="340.8" r="0.55" fill="#e3b51c"/>
<circle cx="466.7" cy="268.0" r="0.6" fill="#e3b51c"/>
<circle cx="465.0" cy="292.3" r="0.55" fill="#e3b51c"/>
<circle cx="465.5" cy="335.1" r="0.7" fill="#e3b51c"/>
<circle cx="469.3" cy="308.1" r="0.55" fill="#e3b51c"/>
<circle cx="484.8" cy="296.9" r="0.6" fill="#e3b51c"/>
<circle cx="479.4" cy="269.8" r="0.5" fill="#e3b51c"/>
<circle cx="483.9" cy="346.1" r="0.5" fill="#e3b51c"/>
<circle cx="483.6" cy="269.9" r="0.5" fill="#e3b51c"/>
<circle cx="485.0" cy="340.2" r="0.55" fill="#e3b51c"/>
<circle cx="475.4" cy="335.2" r="0.6" fill="#e3b51c"/>
<circle cx="478.1" cy="305.5" r="0.5" fill="#e3b51c"/>
<circle cx="474.7" cy="334.2" r="0.6" fill="#e3b51c"/>
<line x1="207.50" y1="13.10" x2="207.50" y2="104.00" stroke="#3d3d3d" stroke-width="1" />
<line x1="207.00" y1="103.50" x2="328.80" y2="103.50" stroke="#3d3d3d" stroke-width="1" />
<line x1="205.50" y1="99.50" x2="207.50" y2="99.50" stroke="#3d3d3d" stroke-width="1" />
<text x="203.30" y="102.60" font-size="8.5" text-anchor="end" fill="#262626" stroke="#262626" stroke-width="0.15" >0.00</text>
<line x1="205.50" y1="78.50" x2="207.50" y2="78.50" stroke="#3d3d3d" stroke-width="1" />
<text x="203.30" y="82.10" font-size="8.5" text-anchor="end" fill="#262626" stroke="#262626" stroke-width="0.15" >0.25</text>
<line x1="205.50" y1="58.50" x2="207.50" y2="58.50" stroke="#3d3d3d" stroke-width="1" />
<text x="203.30" y="61.60" font-size="8.5" text-anchor="end" fill="#262626" stroke="#262626" stroke-width="0.15" >0.50</text>
<line x1="205.50" y1="38.50" x2="207.50" y2="38.50" stroke="#3d3d3d" stroke-width="1" />
<text x="203.30" y="41.10" font-size="8.5" text-anchor="end" fill="#262626" stroke="#262626" stroke-width="0.15" >0.75</text>
<line x1="205.50" y1="17.50" x2="207.50" y2="17.50" stroke="#3d3d3d" stroke-width="1" />
<text x="203.30" y="20.60" font-size="8.5" text-anchor="end" fill="#262626" stroke="#262626" stroke-width="0.15" >1.00</text>
<line x1="213.50" y1="103.50" x2="213.50" y2="105.70" stroke="#6a6a6a" stroke-width="1" />
<text x="213.50" y="114.80" font-size="8.5" text-anchor="middle" fill="#262626" stroke="#262626" stroke-width="0.15" >1.00</text>
<line x1="240.50" y1="103.50" x2="240.50" y2="105.70" stroke="#6a6a6a" stroke-width="1" />
<text x="240.97" y="114.80" font-size="8.5" text-anchor="middle" fill="#262626" stroke="#262626" stroke-width="0.15" >0.75</text>
<line x1="268.50" y1="103.50" x2="268.50" y2="105.70" stroke="#6a6a6a" stroke-width="1" />
<text x="268.45" y="114.80" font-size="8.5" text-anchor="middle" fill="#262626" stroke="#262626" stroke-width="0.15" >0.50</text>
<line x1="295.50" y1="103.50" x2="295.50" y2="105.70" stroke="#6a6a6a" stroke-width="1" />
<text x="295.92" y="114.80" font-size="8.5" text-anchor="middle" fill="#262626" stroke="#262626" stroke-width="0.15" >0.25</text>
<line x1="323.50" y1="103.50" x2="323.50" y2="105.70" stroke="#6a6a6a" stroke-width="1" />
<text x="323.40" y="114.80" font-size="8.5" text-anchor="middle" fill="#262626" stroke="#262626" stroke-width="0.15" >0.00</text>
<line x1="207.50" y1="103.98" x2="328.80" y2="13.47" stroke="#666666" stroke-width="0.65" stroke-dasharray="0.9 0.9"/>
<polyline points="213.5,99.5 214.4,97.5 215.5,94.0 217.9,89.2 220.5,86.5 222.7,84.4 225.1,78.1 229.0,72.5 233.8,65.4 237.8,60.6 242.5,57.5 248.1,55.1 252.9,51.9 257.6,48.7 264.0,45.6 270.0,42.4 271.8,40.4 278.4,35.1 285.0,31.8 289.7,27.9 295.0,25.9 300.9,24.3 304.9,24.3 309.5,22.6 314.8,19.5 318.8,19.5 322.7,17.3 323.4,17.5" fill="none" stroke="#e97b78" stroke-width="0.95" stroke-linejoin="round"/>
<text x="265.00" y="60.80" font-size="5.5" text-anchor="start" fill="#262626" stroke="#262626" stroke-width="0.18" >AUC =0.65 (95% CI: 0.61–0.7)</text>
<line x1="265.30" y1="67.50" x2="277.00" y2="67.50" stroke="#ef6666" stroke-width="1.6" />
<text x="281.20" y="69.40" font-size="5.5" text-anchor="start" fill="#262626" stroke="#262626" stroke-width="0.18" >Age</text>
<text x="268.85" y="125.80" font-size="8.55" text-anchor="middle" fill="#262626" stroke="#262626" stroke-width="0.12">Specificity</text>
<text x="183.00" y="58.25" font-size="8.3" text-anchor="middle" fill="#262626" stroke="#262626" stroke-width="0.12" transform="rotate(-90 183.00 58.25)">Sensitivity</text>
<line x1="554.50" y1="13.10" x2="554.50" y2="104.00" stroke="#3d3d3d" stroke-width="1" />
<line x1="554.00" y1="103.50" x2="675.40" y2="103.50" stroke="#3d3d3d" stroke-width="1" />
<line x1="552.50" y1="99.50" x2="554.50" y2="99.50" stroke="#3d3d3d" stroke-width="1" />
<text x="550.30" y="102.60" font-size="8.5" text-anchor="end" fill="#262626" stroke="#262626" stroke-width="0.15" >0.00</text>
<line x1="552.50" y1="78.50" x2="554.50" y2="78.50" stroke="#3d3d3d" stroke-width="1" />
<text x="550.30" y="82.10" font-size="8.5" text-anchor="end" fill="#262626" stroke="#262626" stroke-width="0.15" >0.25</text>
<line x1="552.50" y1="58.50" x2="554.50" y2="58.50" stroke="#3d3d3d" stroke-width="1" />
<text x="550.30" y="61.60" font-size="8.5" text-anchor="end" fill="#262626" stroke="#262626" stroke-width="0.15" >0.50</text>
<line x1="552.50" y1="38.50" x2="554.50" y2="38.50" stroke="#3d3d3d" stroke-width="1" />
<text x="550.30" y="41.10" font-size="8.5" text-anchor="end" fill="#262626" stroke="#262626" stroke-width="0.15" >0.75</text>
<line x1="552.50" y1="17.50" x2="554.50" y2="17.50" stroke="#3d3d3d" stroke-width="1" />
<text x="550.30" y="20.60" font-size="8.5" text-anchor="end" fill="#262626" stroke="#262626" stroke-width="0.15" >1.00</text>
<line x1="559.50" y1="103.50" x2="559.50" y2="105.70" stroke="#6a6a6a" stroke-width="1" />
<text x="559.60" y="114.80" font-size="8.5" text-anchor="middle" fill="#262626" stroke="#262626" stroke-width="0.15" >1.00</text>
<line x1="587.50" y1="103.50" x2="587.50" y2="105.70" stroke="#6a6a6a" stroke-width="1" />
<text x="587.20" y="114.80" font-size="8.5" text-anchor="middle" fill="#262626" stroke="#262626" stroke-width="0.15" >0.75</text>
<line x1="614.50" y1="103.50" x2="614.50" y2="105.70" stroke="#6a6a6a" stroke-width="1" />
<text x="614.80" y="114.80" font-size="8.5" text-anchor="middle" fill="#262626" stroke="#262626" stroke-width="0.15" >0.50</text>
<line x1="642.50" y1="103.50" x2="642.50" y2="105.70" stroke="#6a6a6a" stroke-width="1" />
<text x="642.40" y="114.80" font-size="8.5" text-anchor="middle" fill="#262626" stroke="#262626" stroke-width="0.15" >0.25</text>
<line x1="670.50" y1="103.50" x2="670.50" y2="105.70" stroke="#6a6a6a" stroke-width="1" />
<text x="670.00" y="114.80" font-size="8.5" text-anchor="middle" fill="#262626" stroke="#262626" stroke-width="0.15" >0.00</text>
<line x1="554.50" y1="103.29" x2="675.40" y2="13.49" stroke="#666666" stroke-width="0.65" stroke-dasharray="0.9 0.9"/>
<polyline points="560.0,99.2 561.2,93.4 563.6,88.0 567.5,85.3 570.6,81.7 572.5,77.0 575.3,75.5 580.8,66.9 584.7,63.8 587.0,57.5 592.5,53.6 596.4,47.3 601.1,45.4 607.2,42.9 610.2,39.9 616.3,38.3 621.2,37.4 627.3,32.6 631.6,32.6 637.7,28.9 645.0,24.9 648.7,24.4 653.5,21.6 658.4,21.6 664.5,18.5 669.4,17.6 670.0,17.2" fill="none" stroke="#e97b78" stroke-width="0.95" stroke-linejoin="round"/>
<text x="611.80" y="60.40" font-size="5.5" text-anchor="start" fill="#262626" stroke="#262626" stroke-width="0.18" >AUC =0.67 (95% CI: 0.63–0.71)</text>
<line x1="612.30" y1="66.90" x2="623.90" y2="66.90" stroke="#ef6666" stroke-width="1.6" />
<text x="625.50" y="68.80" font-size="5.5" text-anchor="start" fill="#262626" stroke="#262626" stroke-width="0.18" >CPB</text>
<text x="615.65" y="125.80" font-size="8.55" text-anchor="middle" fill="#262626" stroke="#262626" stroke-width="0.12">Specificity</text>
<text x="529.90" y="58.25" font-size="8.3" text-anchor="middle" fill="#262626" stroke="#262626" stroke-width="0.12" transform="rotate(-90 529.90 58.25)">Sensitivity</text>
<line x1="208.50" y1="136.60" x2="208.50" y2="227.00" stroke="#3d3d3d" stroke-width="1" />
<line x1="208.00" y1="226.50" x2="329.80" y2="226.50" stroke="#3d3d3d" stroke-width="1" />
<line x1="206.50" y1="222.50" x2="208.50" y2="222.50" stroke="#3d3d3d" stroke-width="1" />
<text x="203.30" y="225.60" font-size="8.5" text-anchor="end" fill="#262626" stroke="#262626" stroke-width="0.15" >0.00</text>
<line x1="206.50" y1="202.50" x2="208.50" y2="202.50" stroke="#3d3d3d" stroke-width="1" />
<text x="203.30" y="205.15" font-size="8.5" text-anchor="end" fill="#262626" stroke="#262626" stroke-width="0.15" >0.25</text>
<line x1="206.50" y1="181.50" x2="208.50" y2="181.50" stroke="#3d3d3d" stroke-width="1" />
<text x="203.30" y="184.70" font-size="8.5" text-anchor="end" fill="#262626" stroke="#262626" stroke-width="0.15" >0.50</text>
<line x1="206.50" y1="161.50" x2="208.50" y2="161.50" stroke="#3d3d3d" stroke-width="1" />
<text x="203.30" y="164.25" font-size="8.5" text-anchor="end" fill="#262626" stroke="#262626" stroke-width="0.15" >0.75</text>
<line x1="206.50" y1="140.50" x2="208.50" y2="140.50" stroke="#3d3d3d" stroke-width="1" />
<text x="203.30" y="143.80" font-size="8.5" text-anchor="end" fill="#262626" stroke="#262626" stroke-width="0.15" >1.00</text>
<line x1="214.50" y1="226.50" x2="214.50" y2="228.70" stroke="#6a6a6a" stroke-width="1" />
<text x="214.00" y="237.80" font-size="8.5" text-anchor="middle" fill="#262626" stroke="#262626" stroke-width="0.15" >1.00</text>
<line x1="241.50" y1="226.50" x2="241.50" y2="228.70" stroke="#6a6a6a" stroke-width="1" />
<text x="241.55" y="237.80" font-size="8.5" text-anchor="middle" fill="#262626" stroke="#262626" stroke-width="0.15" >0.75</text>
<line x1="269.50" y1="226.50" x2="269.50" y2="228.70" stroke="#6a6a6a" stroke-width="1" />
<text x="269.10" y="237.80" font-size="8.5" text-anchor="middle" fill="#262626" stroke="#262626" stroke-width="0.15" >0.50</text>
<line x1="296.50" y1="226.50" x2="296.50" y2="228.70" stroke="#6a6a6a" stroke-width="1" />
<text x="296.65" y="237.80" font-size="8.5" text-anchor="middle" fill="#262626" stroke="#262626" stroke-width="0.15" >0.25</text>
<line x1="324.50" y1="226.50" x2="324.50" y2="228.70" stroke="#6a6a6a" stroke-width="1" />
<text x="324.20" y="237.80" font-size="8.5" text-anchor="middle" fill="#262626" stroke="#262626" stroke-width="0.15" >0.00</text>
<line x1="208.50" y1="226.58" x2="329.80" y2="136.54" stroke="#666666" stroke-width="0.65" stroke-dasharray="0.9 0.9"/>
<polyline points="214.0,222.3 215.4,217.5 217.8,209.3 219.8,201.4 224.4,199.8 228.5,189.6 231.8,185.5 235.0,183.0 238.3,176.5 242.4,174.0 246.5,168.3 248.0,167.1 252.3,163.5 256.5,163.5 265.1,156.2 270.0,155.0 277.3,153.1 283.4,151.3 287.0,151.3 294.3,146.7 302.9,144.0 309.0,142.5 316.3,141.3 323.6,140.3 324.2,140.7" fill="none" stroke="#e97b78" stroke-width="0.95" stroke-linejoin="round"/>
<text x="265.00" y="182.40" font-size="5.5" text-anchor="start" fill="#262626" stroke="#262626" stroke-width="0.18" >AUC =0.73 (95% CI: 0.68–0.77)</text>
<line x1="267.90" y1="188.50" x2="279.50" y2="188.50" stroke="#ef6666" stroke-width="1.6" />
<text x="281.80" y="190.10" font-size="5.5" text-anchor="start" fill="#262626" stroke="#262626" stroke-width="0.18" >sCysC</text>
<text x="269.85" y="248.20" font-size="8.55" text-anchor="middle" fill="#262626" stroke="#262626" stroke-width="0.12">Specificity</text>
<text x="183.00" y="181.25" font-size="8.3" text-anchor="middle" fill="#262626" stroke="#262626" stroke-width="0.12" transform="rotate(-90 183.00 181.25)">Sensitivity</text>
<line x1="554.50" y1="136.60" x2="554.50" y2="227.00" stroke="#3d3d3d" stroke-width="1" />
<line x1="554.00" y1="226.50" x2="675.60" y2="226.50" stroke="#3d3d3d" stroke-width="1" />
<line x1="552.50" y1="222.50" x2="554.50" y2="222.50" stroke="#3d3d3d" stroke-width="1" />
<text x="550.30" y="225.60" font-size="8.5" text-anchor="end" fill="#262626" stroke="#262626" stroke-width="0.15" >0.00</text>
<line x1="552.50" y1="202.50" x2="554.50" y2="202.50" stroke="#3d3d3d" stroke-width="1" />
<text x="550.30" y="205.15" font-size="8.5" text-anchor="end" fill="#262626" stroke="#262626" stroke-width="0.15" >0.25</text>
<line x1="552.50" y1="181.50" x2="554.50" y2="181.50" stroke="#3d3d3d" stroke-width="1" />
<text x="550.30" y="184.70" font-size="8.5" text-anchor="end" fill="#262626" stroke="#262626" stroke-width="0.15" >0.50</text>
<line x1="552.50" y1="161.50" x2="554.50" y2="161.50" stroke="#3d3d3d" stroke-width="1" />
<text x="550.30" y="164.25" font-size="8.5" text-anchor="end" fill="#262626" stroke="#262626" stroke-width="0.15" >0.75</text>
<line x1="552.50" y1="140.50" x2="554.50" y2="140.50" stroke="#3d3d3d" stroke-width="1" />
<text x="550.30" y="143.80" font-size="8.5" text-anchor="end" fill="#262626" stroke="#262626" stroke-width="0.15" >1.00</text>
<line x1="559.50" y1="226.50" x2="559.50" y2="228.70" stroke="#6a6a6a" stroke-width="1" />
<text x="559.60" y="237.80" font-size="8.5" text-anchor="middle" fill="#262626" stroke="#262626" stroke-width="0.15" >1.00</text>
<line x1="587.50" y1="226.50" x2="587.50" y2="228.70" stroke="#6a6a6a" stroke-width="1" />
<text x="587.25" y="237.80" font-size="8.5" text-anchor="middle" fill="#262626" stroke="#262626" stroke-width="0.15" >0.75</text>
<line x1="614.50" y1="226.50" x2="614.50" y2="228.70" stroke="#6a6a6a" stroke-width="1" />
<text x="614.90" y="237.80" font-size="8.5" text-anchor="middle" fill="#262626" stroke="#262626" stroke-width="0.15" >0.50</text>
<line x1="642.50" y1="226.50" x2="642.50" y2="228.70" stroke="#6a6a6a" stroke-width="1" />
<text x="642.55" y="237.80" font-size="8.5" text-anchor="middle" fill="#262626" stroke="#262626" stroke-width="0.15" >0.25</text>
<line x1="670.50" y1="226.50" x2="670.50" y2="228.70" stroke="#6a6a6a" stroke-width="1" />
<text x="670.20" y="237.80" font-size="8.5" text-anchor="middle" fill="#262626" stroke="#262626" stroke-width="0.15" >0.00</text>
<line x1="554.50" y1="226.27" x2="675.60" y2="136.71" stroke="#666666" stroke-width="0.65" stroke-dasharray="0.9 0.9"/>
<polyline points="559.7,222.3 562.4,217.5 567.3,212.5 570.6,212.5 574.7,204.3 579.6,201.0 582.9,193.7 587.0,193.7 590.2,189.6 596.8,183.0 599.3,169.1 606.1,165.9 612.2,162.3 614.6,162.3 618.3,157.4 624.4,155.0 630.5,152.5 635.4,149.5 641.5,147.0 648.8,143.0 654.9,141.5 663.4,141.3 668.3,140.3 670.0,140.7" fill="none" stroke="#e97b78" stroke-width="0.95" stroke-linejoin="round"/>
<text x="605.10" y="184.70" font-size="5.5" text-anchor="start" fill="#262626" stroke="#262626" stroke-width="0.18" >AUC =0.65 (95% CI: 0.61–0.69)</text>
<line x1="611.00" y1="191.40" x2="622.60" y2="191.40" stroke="#ef6666" stroke-width="1.6" />
<text x="625.40" y="193.10" font-size="5.5" text-anchor="start" fill="#262626" stroke="#262626" stroke-width="0.18" >uNAG</text>
<text x="615.75" y="248.20" font-size="8.55" text-anchor="middle" fill="#262626" stroke="#262626" stroke-width="0.12">Specificity</text>
<text x="529.90" y="181.25" font-size="8.3" text-anchor="middle" fill="#262626" stroke="#262626" stroke-width="0.12" transform="rotate(-90 529.90 181.25)">Sensitivity</text>
<line x1="207.50" y1="262.60" x2="207.50" y2="353.00" stroke="#3d3d3d" stroke-width="1" />
<line x1="207.00" y1="352.50" x2="328.70" y2="352.50" stroke="#3d3d3d" stroke-width="1" />
<line x1="205.50" y1="348.50" x2="207.50" y2="348.50" stroke="#3d3d3d" stroke-width="1" />
<text x="203.30" y="351.60" font-size="8.5" text-anchor="end" fill="#262626" stroke="#262626" stroke-width="0.15" >0.00</text>
<line x1="205.50" y1="328.50" x2="207.50" y2="328.50" stroke="#3d3d3d" stroke-width="1" />
<text x="203.30" y="331.28" font-size="8.5" text-anchor="end" fill="#262626" stroke="#262626" stroke-width="0.15" >0.25</text>
<line x1="205.50" y1="307.50" x2="207.50" y2="307.50" stroke="#3d3d3d" stroke-width="1" />
<text x="203.30" y="310.95" font-size="8.5" text-anchor="end" fill="#262626" stroke="#262626" stroke-width="0.15" >0.50</text>
<line x1="205.50" y1="287.50" x2="207.50" y2="287.50" stroke="#3d3d3d" stroke-width="1" />
<text x="203.30" y="290.62" font-size="8.5" text-anchor="end" fill="#262626" stroke="#262626" stroke-width="0.15" >0.75</text>
<line x1="205.50" y1="267.50" x2="207.50" y2="267.50" stroke="#3d3d3d" stroke-width="1" />
<text x="203.30" y="270.30" font-size="8.5" text-anchor="end" fill="#262626" stroke="#262626" stroke-width="0.15" >1.00</text>
<line x1="213.50" y1="352.50" x2="213.50" y2="354.70" stroke="#6a6a6a" stroke-width="1" />
<text x="213.30" y="363.30" font-size="8.5" text-anchor="middle" fill="#262626" stroke="#262626" stroke-width="0.15" >1.00</text>
<line x1="240.50" y1="352.50" x2="240.50" y2="354.70" stroke="#6a6a6a" stroke-width="1" />
<text x="240.82" y="363.30" font-size="8.5" text-anchor="middle" fill="#262626" stroke="#262626" stroke-width="0.15" >0.75</text>
<line x1="268.50" y1="352.50" x2="268.50" y2="354.70" stroke="#6a6a6a" stroke-width="1" />
<text x="268.35" y="363.30" font-size="8.5" text-anchor="middle" fill="#262626" stroke="#262626" stroke-width="0.15" >0.50</text>
<line x1="295.50" y1="352.50" x2="295.50" y2="354.70" stroke="#6a6a6a" stroke-width="1" />
<text x="295.88" y="363.30" font-size="8.5" text-anchor="middle" fill="#262626" stroke="#262626" stroke-width="0.15" >0.25</text>
<line x1="323.50" y1="352.50" x2="323.50" y2="354.70" stroke="#6a6a6a" stroke-width="1" />
<text x="323.40" y="363.30" font-size="8.5" text-anchor="middle" fill="#262626" stroke="#262626" stroke-width="0.15" >0.00</text>
<line x1="207.50" y1="352.78" x2="328.70" y2="263.29" stroke="#666666" stroke-width="0.65" stroke-dasharray="0.9 0.9"/>
<polyline points="213.3,348.3 213.7,346.7 214.9,340.2 217.0,337.7 218.7,332.8 220.3,329.5 224.4,323.8 229.3,321.3 233.4,317.2 237.5,312.3 242.4,309.9 247.3,304.9 249.2,303.5 254.1,300.5 258.4,294.4 262.0,291.3 268.1,291.3 272.4,288.3 277.3,287.0 281.5,284.0 287.0,281.6 294.3,279.1 300.4,276.7 306.5,274.2 314.5,271.2 316.3,268.1 320.0,266.9 323.0,267.5 323.4,266.7" fill="none" stroke="#e97b78" stroke-width="0.95" stroke-linejoin="round"/>
<text x="263.90" y="308.40" font-size="5.5" text-anchor="start" fill="#262626" stroke="#262626" stroke-width="0.18" >AUC =0.65 (95% CI: 0.61–0.7)</text>
<line x1="267.30" y1="314.90" x2="278.90" y2="314.90" stroke="#ef6666" stroke-width="1.6" />
<text x="280.50" y="316.50" font-size="5.5" text-anchor="start" fill="#262626" stroke="#262626" stroke-width="0.18" >cTnI</text>
<text x="268.80" y="374.20" font-size="8.55" text-anchor="middle" fill="#262626" stroke="#262626" stroke-width="0.12">Specificity</text>
<text x="183.00" y="307.25" font-size="8.3" text-anchor="middle" fill="#262626" stroke="#262626" stroke-width="0.12" transform="rotate(-90 183.00 307.25)">Sensitivity</text>
<line x1="554.50" y1="262.60" x2="554.50" y2="353.00" stroke="#3d3d3d" stroke-width="1" />
<line x1="554.00" y1="352.50" x2="675.70" y2="352.50" stroke="#3d3d3d" stroke-width="1" />
<line x1="552.50" y1="348.50" x2="554.50" y2="348.50" stroke="#3d3d3d" stroke-width="1" />
<text x="550.30" y="351.60" font-size="8.5" text-anchor="end" fill="#262626" stroke="#262626" stroke-width="0.15" >0.00</text>
<line x1="552.50" y1="328.50" x2="554.50" y2="328.50" stroke="#3d3d3d" stroke-width="1" />
<text x="550.30" y="331.28" font-size="8.5" text-anchor="end" fill="#262626" stroke="#262626" stroke-width="0.15" >0.25</text>
<line x1="552.50" y1="307.50" x2="554.50" y2="307.50" stroke="#3d3d3d" stroke-width="1" />
<text x="550.30" y="310.95" font-size="8.5" text-anchor="end" fill="#262626" stroke="#262626" stroke-width="0.15" >0.50</text>
<line x1="552.50" y1="287.50" x2="554.50" y2="287.50" stroke="#3d3d3d" stroke-width="1" />
<text x="550.30" y="290.62" font-size="8.5" text-anchor="end" fill="#262626" stroke="#262626" stroke-width="0.15" >0.75</text>
<line x1="552.50" y1="267.50" x2="554.50" y2="267.50" stroke="#3d3d3d" stroke-width="1" />
<text x="550.30" y="270.30" font-size="8.5" text-anchor="end" fill="#262626" stroke="#262626" stroke-width="0.15" >1.00</text>
<line x1="559.50" y1="352.50" x2="559.50" y2="354.70" stroke="#6a6a6a" stroke-width="1" />
<text x="559.60" y="363.30" font-size="8.5" text-anchor="middle" fill="#262626" stroke="#262626" stroke-width="0.15" >1.00</text>
<line x1="587.50" y1="352.50" x2="587.50" y2="354.70" stroke="#6a6a6a" stroke-width="1" />
<text x="587.23" y="363.30" font-size="8.5" text-anchor="middle" fill="#262626" stroke="#262626" stroke-width="0.15" >0.75</text>
<line x1="614.50" y1="352.50" x2="614.50" y2="354.70" stroke="#6a6a6a" stroke-width="1" />
<text x="614.85" y="363.30" font-size="8.5" text-anchor="middle" fill="#262626" stroke="#262626" stroke-width="0.15" >0.50</text>
<line x1="642.50" y1="352.50" x2="642.50" y2="354.70" stroke="#6a6a6a" stroke-width="1" />
<text x="642.48" y="363.30" font-size="8.5" text-anchor="middle" fill="#262626" stroke="#262626" stroke-width="0.15" >0.25</text>
<line x1="670.50" y1="352.50" x2="670.50" y2="354.70" stroke="#6a6a6a" stroke-width="1" />
<text x="670.10" y="363.30" font-size="8.5" text-anchor="middle" fill="#262626" stroke="#262626" stroke-width="0.15" >0.00</text>
<line x1="554.50" y1="352.25" x2="675.70" y2="263.08" stroke="#666666" stroke-width="0.65" stroke-dasharray="0.9 0.9"/>
<polyline points="559.7,348.3 561.6,343.5 563.2,340.2 567.3,336.9 570.6,332.8 572.2,330.3 573.9,326.2 576.3,323.0 577.1,319.7 582.0,315.6 585.3,313.1 587.8,309.0 594.3,304.1 599.3,300.8 606.1,296.2 612.2,293.8 618.3,290.1 624.4,287.7 626.8,285.2 632.9,282.8 636.6,281.0 640.9,280.3 643.9,277.9 650.6,274.9 653.7,271.8 658.5,269.0 663.4,268.1 669.5,266.9 670.0,266.7" fill="none" stroke="#e97b78" stroke-width="0.95" stroke-linejoin="round"/>
<text x="605.30" y="309.70" font-size="5.5" text-anchor="start" fill="#262626" stroke="#262626" stroke-width="0.18" >AUC =0.64 (95% CI: 0.59–0.69)</text>
<line x1="610.30" y1="317.20" x2="622.00" y2="317.20" stroke="#ef6666" stroke-width="1.6" />
<text x="624.20" y="319.10" font-size="5.5" text-anchor="start" fill="#262626" stroke="#262626" stroke-width="0.18" >NT-proBNP</text>
<text x="615.80" y="374.20" font-size="8.55" text-anchor="middle" fill="#262626" stroke="#262626" stroke-width="0.12">Specificity</text>
<text x="529.90" y="307.25" font-size="8.3" text-anchor="middle" fill="#262626" stroke="#262626" stroke-width="0.12" transform="rotate(-90 529.90 307.25)">Sensitivity</text>
</svg></body></html>
